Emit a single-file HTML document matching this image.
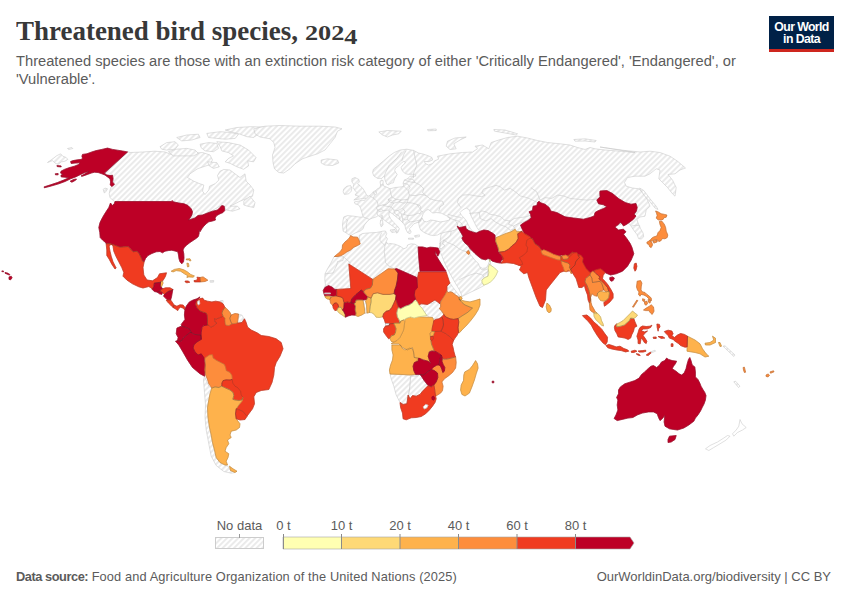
<!DOCTYPE html>
<html><head><meta charset="utf-8">
<style>
html,body{margin:0;padding:0;background:#fff;}
body{width:850px;height:600px;position:relative;overflow:hidden;font-family:"Liberation Sans",sans-serif;}
#title{position:absolute;left:16px;top:13.4px;font-family:"Liberation Serif",serif;font-weight:bold;font-size:28px;color:#383838;white-space:nowrap;line-height:36px;transform:scaleX(0.963);transform-origin:0 0;}
#sub{position:absolute;left:16px;top:53px;font-size:14.7px;line-height:17.5px;color:#5b5b5b;white-space:nowrap;}
#logo{position:absolute;left:769px;top:16px;width:65px;height:36px;background:#002147;}
#logo .bar{position:absolute;left:0;right:0;bottom:0;height:3px;background:#ce261e;}
#logo .t{position:absolute;left:0;right:0;top:4.6px;text-align:center;color:#fff;font-weight:bold;font-size:12.3px;line-height:12.3px;letter-spacing:-0.6px;}
#foot{position:absolute;left:16px;top:569px;font-size:12.8px;line-height:16px;color:#5b5b5b;white-space:nowrap;}
#foot2{position:absolute;right:19px;top:569px;font-size:13px;line-height:16px;color:#5b5b5b;white-space:nowrap;}
svg{position:absolute;left:0;top:0;}
.lg{font-family:"Liberation Sans",sans-serif;font-size:13px;fill:#5b5b5b;}
</style></head><body>
<div id="title">Threatened bird species, <span style="font-size:21.5px;display:inline-block;transform:scaleX(1.27);transform-origin:0 0">202<span style="position:relative;top:4px">4</span></span></div>
<div id="sub">Threatened species are those with an extinction risk category of either 'Critically Endangered', 'Endangered', or<br>'Vulnerable'.</div>
<div id="logo"><div class="t">Our World<br>in Data</div><div class="bar"></div></div>
<svg width="850" height="600" viewBox="0 0 850 600">
<defs>
<pattern id="h" patternUnits="userSpaceOnUse" width="4" height="4" patternTransform="rotate(45)"><rect width="4" height="4" fill="#fff"/><line x1="1" y1="-1" x2="1" y2="5" stroke="#dcdcdc" stroke-width="1.15"/></pattern>
</defs>
<g fill="url(#h)" stroke="#c6c6c6" stroke-width="0.55" stroke-linejoin="round">
<path d="M343.8 216.9L347.5 215.6L353.8 216.2L360.0 217.2L363.1 216.9L361.9 212.5L360.6 208.1L358.8 205.0L355.0 203.8L354.4 201.9L358.8 201.2L361.9 200.0L364.4 200.6L366.9 196.9L369.4 195.6L371.2 194.4L373.1 191.9L375.6 190.6L377.5 188.8L380.0 187.5L380.6 185.0L380.0 181.9L381.2 180.0L383.1 180.6L383.1 183.8L383.8 186.2L386.2 186.9L390.0 188.8L395.0 187.5L401.2 186.9L403.8 186.2L403.1 183.1L404.4 180.0L407.5 178.8L410.0 176.2L415.0 176.0L415.9 176.1L415.2 174.3L412.3 174.3L408.1 174.3L405.3 173.6L403.2 171.9L401.8 169.8L401.1 167.6L402.5 165.5L404.6 163.8L405.3 162.0L403.9 161.3L401.8 162.7L398.2 166.2L395.4 168.3L394.7 170.5L395.8 172.6L397.2 174.3L396.1 176.5L394.7 178.6L394.0 180.7L393.3 182.8L391.2 183.2L388.3 184.9L386.8 184.3L385.1 180.1L384.3 175.9L381.8 178.4L377.6 178.4L373.8 175.9L372.6 172.6L373.4 169.2L377.6 165.9L383.5 160.9L389.3 155.9L394.3 152.5L400.2 150.0L406.8 149.2L413.5 150.4L418.5 153.0L423.6 154.2L428.6 155.9L431.9 157.5L432.7 160.0L428.6 161.7L424.4 161.4L425.2 163.4L428.6 165.1L432.7 163.4L434.4 160.9L438.6 159.2L437.5 156.2L450.0 153.8L462.5 152.5L472.5 152.0L477.5 148.8L475.0 146.2L482.5 145.0L488.8 148.8L491.2 142.5L498.8 140.0L507.5 137.5L517.5 136.2L527.5 138.0L537.5 140.5L547.5 142.5L560.0 143.8L570.0 145.0L577.5 147.5L585.0 149.5L590.0 147.5L595.0 148.8L605.0 150.0L620.0 151.2L635.0 152.5L600.0 147.0L612.5 148.8L625.0 150.5L640.0 152.0L650.0 151.2L660.0 152.5L670.0 156.2L677.5 161.2L685.5 168.0L680.0 170.0L675.0 173.8L668.0 174.5L672.5 180.0L676.2 187.5L675.0 196.2L672.5 193.8L667.5 187.5L662.5 182.5L658.8 178.8L660.0 170.0L656.2 168.8L650.0 173.8L645.0 176.2L635.0 176.2L627.5 177.5L624.5 182.5L626.2 186.2L632.5 188.0L638.8 188.8L643.8 193.8L647.5 200.0L650.0 206.2L646.2 210.0L645.0 216.2L640.0 217.0L636.9 219.4L638.1 223.1L640.6 228.7L643.1 233.1L643.7 236.9L641.2 239.0L638.7 238.7L636.9 234.4L634.4 231.2L631.9 227.5L630.0 224.4L627.0 222.0L600.0 232.0L560.0 245.0L520.0 240.0L500.0 240.0L480.0 240.0L470.0 250.0L467.0 251.0L468.0 254.0L471.7 254.3L474.2 256.8L477.6 258.5L478.4 261.0L482.6 263.5L487.6 264.3L490.0 260.0L491.0 266.0L488.0 270.0L487.5 276.0L482.5 279.0L482.0 282.5L484.0 285.5L477.5 289.0L470.0 292.5L462.0 296.5L461.0 293.5L459.5 290.0L455.0 282.5L450.0 273.7L445.0 263.7L440.5 252.5L439.8 248.0L440.0 242.5L440.6 237.5L441.2 233.0L437.5 235.0L433.7 235.6L430.0 235.0L425.0 233.0L420.6 230.0L419.4 226.8L418.5 222.0L421.9 217.5L420.0 221.9L417.5 222.5L413.8 223.8L411.9 226.2L409.4 228.8L411.2 231.9L410.0 233.8L407.5 232.5L405.6 228.8L405.0 225.6L403.1 223.1L400.0 220.0L396.2 216.9L392.5 213.8L389.4 211.9L388.8 215.0L390.6 218.8L393.8 222.5L397.5 226.2L399.4 228.8L397.8 232.5L396.2 233.1L396.9 230.0L393.8 226.9L389.4 223.8L385.0 220.6L381.2 217.5L378.1 215.6L376.2 216.9L372.5 218.1L369.4 219.4L366.9 221.9L364.4 225.0L363.1 228.8L360.0 231.2L355.0 233.1L350.6 235.6L347.5 233.8L345.6 232.5L343.1 231.2L342.5 225.0L343.1 220.0Z"/>
<path d="M421.9 217.5L423.1 213.8L425.6 210.6L428.1 209.4L430.6 211.2L432.5 213.1L436.2 212.5L441.2 213.1L446.2 215.6L450.0 217.5L449.4 220.0L445.0 221.2L440.0 221.9L435.0 220.6L430.6 220.0L426.9 221.9L423.8 221.2Z" fill="#fff" stroke="#c6c6c6"/>
<path d="M460.0 212.5L462.5 210.0L466.2 208.1L468.8 209.4L470.0 211.9L470.6 215.0L472.5 218.8L474.4 222.5L476.2 226.2L478.1 229.4L480.0 231.2L476.2 232.5L472.5 231.2L470.0 228.1L468.1 224.4L466.2 220.6L463.8 217.5L461.2 215.0Z" fill="#fff" stroke="#c6c6c6"/>
<path d="M470.0 250.6L472.5 250.6L475.0 253.8L478.1 256.2L481.2 258.8L485.0 260.0L488.1 258.8L490.6 260.0L489.4 261.2L488.1 265.0L486.2 267.8L482.5 268.4L479.4 266.5L478.4 263.5L475.2 260.6L472.8 257.5L471.0 255.2L469.4 253.8Z" fill="#fff" stroke="#c6c6c6"/>
<path d="M351.9 178.8L355.0 177.5L358.8 179.4L359.4 181.9L357.5 183.8L360.0 185.6L363.1 188.8L365.0 191.9L366.2 194.4L368.1 196.2L366.9 198.1L362.5 198.5L357.5 199.4L353.8 200.0L356.2 198.1L358.8 196.2L355.0 195.0L356.9 192.5L355.0 190.6L353.1 187.5L353.8 184.4L351.9 181.9Z"/>
<path d="M343.8 188.8L346.9 186.2L350.6 185.6L351.9 188.1L351.2 191.2L348.8 193.8L344.4 194.4L343.1 191.9Z"/>
<path d="M390.0 230.0L395.0 229.4L395.6 231.9L391.9 232.5Z"/>
<path d="M380.6 220.0L382.5 219.8L383.1 225.0L381.2 226.9L380.2 223.8Z"/>
<path d="M381.2 215.6L382.5 215.6L382.8 219.0L381.5 219.0Z"/>
<path d="M414.4 235.7L419.4 234.9L419.4 236.6L415.2 237.2Z"/>
<path d="M408.5 238.2L413.5 238.2L413.5 239.2L408.5 239.2Z"/>
<path d="M321.2 160.0L327.5 158.8L337.5 160.0L338.8 163.0L332.5 165.5L325.0 165.0L321.2 163.0Z"/>
<path d="M378.8 132.0L387.5 130.5L401.2 131.2L398.8 133.8L392.5 135.0L387.5 137.0L382.5 135.0Z"/>
<path d="M427.5 129.5L436.2 129.0L436.2 130.5L428.0 130.8Z"/>
<path d="M447.5 141.2L455.0 138.0L466.2 137.0L460.0 140.0L453.8 143.8L456.2 148.8L450.0 149.5L446.2 146.2Z"/>
<path d="M493.8 129.5L505.0 130.0L517.5 133.8L516.2 135.0L505.0 133.0L494.5 131.2Z"/>
<path d="M573.8 139.5L585.0 138.8L596.2 140.5L595.0 142.0L585.0 141.0L575.0 141.2Z"/>
<path d="M639.5 188.0L643.8 190.5L650.0 198.8L656.2 206.2L658.0 209.5L655.0 208.0L649.5 201.2L643.8 195.0Z"/>
<path d="M334.2 256.5L340.0 255.8L343.8 251.2L347.5 247.5L355.0 245.0L360.0 242.0L359.0 235.5L362.5 233.5L370.0 232.8L376.2 232.5L380.0 231.8L382.5 231.2L385.5 231.0L386.8 233.8L385.5 236.2L387.5 238.8L386.2 241.8L388.0 244.2L390.0 243.5L395.0 244.2L400.0 246.2L403.8 248.8L406.8 247.5L407.5 245.0L411.2 243.8L415.0 244.2L418.0 246.2L420.0 260.0L420.0 281.2L397.5 276.2L390.0 273.8L372.5 285.0L351.2 270.0L351.2 290.0L335.0 291.2L326.2 286.2L323.8 290.0L324.2 288.0L325.5 285.0L324.8 280.0L325.0 273.8L327.5 268.8L330.5 263.8Z"/>
<path d="M128.0 151.8L105.0 173.0L107.5 175.5L112.0 178.0L113.8 182.5L114.2 184.2L111.2 186.8L110.0 190.0L109.2 193.8L110.0 197.5L112.5 200.0L115.0 201.8L171.2 201.5L180.0 203.0L186.2 205.0L191.2 209.5L192.5 213.8L190.0 218.0L188.8 219.5L195.0 217.0L203.8 214.5L212.5 210.5L220.0 206.2L223.8 205.8L226.2 210.0L232.5 211.2L240.0 208.8L237.5 206.2L230.0 206.2L235.0 203.8L240.0 201.2L246.2 198.8L252.5 196.2L253.8 190.0L250.0 185.0L246.2 181.2L245.0 173.8L240.0 177.5L235.0 173.8L230.0 170.0L223.8 169.5L220.0 171.2L217.5 175.5L218.8 180.0L215.0 183.8L209.5 186.2L208.8 190.0L205.0 194.5L202.5 191.2L203.8 185.0L200.0 183.8L193.8 181.2L187.5 177.5L190.0 173.8L197.5 168.8L205.0 166.2L212.5 163.8L210.0 163.8L212.5 160.0L210.0 155.0L202.5 152.5L187.5 153.8L172.5 155.0L165.0 152.0L155.0 151.2L142.5 152.0L130.0 152.5Z"/>
<path d="M243.8 201.2L250.0 196.2L255.0 202.5L253.8 207.5L247.5 206.2L243.8 205.0Z"/>
<path d="M160.0 146.7L166.7 142.6L175.1 141.7L178.4 145.1L175.1 149.2L166.7 150.1L161.7 149.2Z"/>
<path d="M168.4 151.7L176.7 149.2L186.8 148.4L195.1 150.1L198.4 153.4L193.4 155.9L183.4 155.9L173.4 155.9Z"/>
<path d="M176.7 137.5L186.8 135.0L198.4 134.2L200.1 137.5L191.8 140.0L181.7 140.9Z"/>
<path d="M206.8 133.4L220.2 131.7L230.2 132.5L238.5 134.2L235.2 138.4L225.2 139.2L216.8 138.4L208.5 137.5Z"/>
<path d="M225.2 130.0L236.9 127.5L250.2 126.7L263.6 127.0L270.3 129.2L265.3 132.5L256.9 135.0L253.6 137.5L246.9 136.7L240.2 134.2L233.5 132.5Z"/>
<path d="M200.1 144.2L208.5 142.6L216.8 143.4L218.5 148.4L213.5 151.7L205.1 150.9L201.0 147.6Z"/>
<path d="M216.8 141.7L228.5 142.6L240.2 145.1L248.6 150.1L256.1 157.6L253.6 161.8L247.7 160.9L248.6 165.9L243.6 169.3L236.9 166.8L230.2 163.4L225.2 161.8L228.5 158.4L233.5 155.9L228.5 152.6L221.8 150.9L220.2 146.7Z"/>
<path d="M207.6 161.8L216.8 162.6L219.3 166.8L213.5 168.4L209.3 165.9Z"/>
<path d="M253.8 128.8L265.0 126.2L280.0 125.5L300.0 126.2L320.0 126.2L335.0 127.0L342.0 128.8L337.5 131.2L335.0 137.5L330.0 143.8L325.0 150.0L317.5 153.8L310.0 156.2L302.5 158.8L295.0 163.8L290.0 168.8L283.8 173.0L278.8 172.5L274.5 168.8L273.0 162.5L272.5 155.0L275.0 147.5L273.8 142.5L270.0 138.8L260.0 137.0L255.0 133.8Z"/>
<path d="M47.5 162.5L51.9 159.4L56.9 155.6L60.6 153.8L62.8 156.2L66.2 157.5L67.8 159.4L65.0 161.2L61.2 161.9L58.1 164.4L55.0 163.1L52.5 160.6Z"/>
<path d="M67.5 148.5L71.9 147.5L72.8 148.5L68.8 149.5Z"/>
<path d="M103.1 189.4L105.0 188.1L107.5 188.8L106.2 191.2L104.4 193.1Z"/>
<path d="M740.0 419.5L742.0 423.8L746.2 427.5L742.5 430.0L737.5 432.5L733.8 436.2L732.5 433.8L736.2 430.0L738.8 426.2Z" fill="#fff" stroke="#c6c6c6"/>
<path d="M730.0 436.2L726.2 440.0L720.0 443.8L713.8 447.5L708.8 450.5L705.5 448.8L710.0 445.5L717.5 442.0L723.8 438.0L727.5 435.5Z" fill="#fff" stroke="#c6c6c6"/>
<path d="M733.8 381.8L735.5 381.2L740.0 386.2L738.5 387.5Z"/>
<path d="M723.0 346.2L725.0 345.8L735.0 355.0L733.8 356.5Z"/>
<path d="M460.9 207.6L457.5 202.6L458.4 198.4L462.6 195.1L469.2 194.7L475.9 195.9L481.8 196.7L485.1 195.1L481.8 192.6L483.4 189.2L488.4 187.6L496.0 185.4L500.1 186.7L504.3 190.1L510.2 188.4L515.2 191.7L520.2 195.9L526.9 197.6L532.7 200.1L537.7 202.6" fill="none"/>
<path d="M469.2 213.4L479.3 212.6L481.8 210.9L485.9 211.8L490.1 214.3L495.1 215.1L501.0 216.8L504.3 220.1L510.2 221.0L514.3 218.5L520.2 217.6L526.0 216.8L531.0 215.1" fill="none"/>
<path d="M479.3 212.6L480.1 218.5L485.9 221.0L491.0 218.5L495.1 221.8L501.0 225.1L506.0 226.8L510.2 230.2" fill="none"/>
<path d="M510.2 221.0L508.5 224.3L513.5 226.0L518.5 223.5L523.5 221.8L529.4 219.3" fill="none"/>
<path d="M513.5 226.0L515.2 229.3L510.2 230.2" fill="none"/>
<path d="M530.8 187.6L536.7 191.8L540.0 200.1L545.0 197.6L551.7 198.4L557.5 195.1L563.4 195.9L570.1 198.4L578.4 199.3L586.8 200.1L595.1 199.3L597.6 198.4" fill="none"/>
<path d="M631.5 226.0L636.1 225.2L640.2 226.0" fill="none"/>
<path d="M345.6 218.8L347.5 220.0L346.2 225.0L346.9 230.0L345.6 232.5" fill="none"/>
<path d="M363.1 216.9L369.4 219.4" fill="none"/>
<path d="M369.4 195.6L373.1 198.1L375.6 200.0L377.5 201.9L378.1 206.2L376.2 207.5L377.5 210.0L376.9 213.1L378.1 215.6" fill="none"/>
<path d="M373.1 191.9L375.0 195.0L373.1 198.1" fill="none"/>
<path d="M375.6 190.6L376.9 193.8L375.0 195.0" fill="none"/>
<path d="M390.0 188.8L390.6 193.1L391.9 196.9L388.1 199.4L389.4 201.9L386.2 204.4L382.5 205.0L378.1 206.2" fill="none"/>
<path d="M380.6 185.0L383.1 184.8" fill="none"/>
<path d="M391.9 196.9L396.2 199.4L401.2 200.0L408.1 199.4L409.4 195.0L408.1 190.6L403.8 186.2" fill="none"/>
<path d="M388.1 199.4L392.5 201.2L396.2 199.4" fill="none"/>
<path d="M389.4 201.9L393.8 203.1L398.8 201.9L401.2 200.0" fill="none"/>
<path d="M382.5 205.0L386.2 206.2L391.2 206.9L393.8 203.1" fill="none"/>
<path d="M398.8 201.9L403.8 203.1L407.5 202.5L408.1 199.4" fill="none"/>
<path d="M377.5 210.0L381.2 208.8L383.1 210.6L380.0 211.9L377.5 210.0" fill="none"/>
<path d="M383.1 210.6L388.8 210.0L391.2 206.9" fill="none"/>
<path d="M388.8 210.0L389.4 211.9" fill="none"/>
<path d="M391.2 206.9L393.8 210.0L398.1 210.6L402.5 208.1L407.5 202.5" fill="none"/>
<path d="M402.5 208.1L405.0 211.2L403.8 214.4L408.1 215.6L413.8 215.0L418.1 213.1L420.0 213.8L421.2 211.2" fill="none"/>
<path d="M407.5 202.5L412.5 203.1L416.9 204.4L420.0 208.8L421.2 211.2L423.1 211.9" fill="none"/>
<path d="M408.1 215.6L407.5 219.4L410.0 221.9L415.0 221.2L420.0 220.0L421.2 220.6" fill="none"/>
<path d="M393.8 210.0L395.0 213.8L398.8 215.6L400.0 220.0" fill="none"/>
<path d="M398.1 210.6L401.2 213.8L403.8 214.4" fill="none"/>
<path d="M401.2 213.8L402.5 218.1L405.0 220.0L407.5 219.4" fill="none"/>
<path d="M402.5 218.1L403.1 223.1" fill="none"/>
<path d="M405.0 225.6L407.5 223.1L410.0 221.9" fill="none"/>
<path d="M409.4 195.0L415.0 195.6L421.2 194.4L426.2 195.6" fill="none"/>
<path d="M426.2 195.6L430.0 198.8L436.2 200.6L442.5 201.2L443.8 204.4L440.0 206.9L438.8 211.2" fill="none"/>
<path d="M416.9 204.4L420.0 205.6L421.2 208.8" fill="none"/>
<path d="M415.0 182.5L420.0 185.0L423.8 188.8L422.5 192.5L426.2 195.6" fill="none"/>
<path d="M407.5 178.8L413.1 179.4L415.0 182.5" fill="none"/>
<path d="M404.4 180.0L410.0 181.9L415.0 182.5" fill="none"/>
<path d="M403.1 183.1L408.1 184.4L410.0 187.5L408.1 190.6" fill="none"/>
<path d="M401.8 151.7L396.8 158.4L389.3 165.1L386.0 171.7L384.3 175.9" fill="none"/>
<path d="M401.8 160.9L403.5 155.0L406.0 150.9" fill="none"/>
<path d="M413.5 150.4L415.2 158.4L416.9 165.1L413.5 173.4L413.5 178.1" fill="none"/>
<path d="M447.5 216.9L451.2 218.8L455.0 220.0L457.5 223.8L457.2 226.2" fill="none"/>
<path d="M441.9 233.1L446.2 231.9L451.2 231.2L455.0 230.0L458.1 228.1" fill="none"/>
<path d="M448.1 214.4L452.5 215.6L457.5 216.9L461.2 217.5" fill="none"/>
<path d="M455.0 220.0L458.8 221.2L461.9 223.8L462.5 226.9" fill="none"/>
<path d="M451.2 231.2L450.6 235.0L447.5 238.1L443.8 240.0" fill="none"/>
<path d="M443.8 240.0L447.5 242.5L453.8 245.0L460.0 249.4L466.5 251.9" fill="none"/>
<path d="M458.1 228.1L459.4 230.0L461.2 233.1L463.1 236.2L461.9 238.1L463.1 240.6L465.0 243.1L468.1 245.6L469.4 248.1L468.5 250.6" fill="none"/>
<path d="M440.6 242.5L443.8 240.0L442.5 243.8L445.0 245.6L441.2 248.8L438.8 248.1" fill="none"/>
<path d="M439.4 243.8L440.6 242.5L440.0 246.2L438.8 248.1" fill="none"/>
<path d="M458.8 280.0L463.8 277.5L470.0 275.0L476.2 273.1L482.5 275.0L485.0 278.8" fill="none"/>
<path d="M482.5 275.0L488.5 271.2L488.5 268.8" fill="none"/>
<path d="M480.0 267.5L481.2 269.4L485.0 270.0L488.5 268.8" fill="none"/>
<path d="M334.2 256.5L343.5 256.8L343.0 260.5L337.5 261.5L336.8 265.0L335.0 268.8L333.0 273.0L325.0 273.8" fill="none"/>
<path d="M343.5 256.8L350.5 263.0L348.8 264.0" fill="none"/>
<path d="M385.0 245.5L384.2 251.2L385.0 257.5L385.5 262.5L388.0 265.5L395.0 269.2" fill="none"/>
<path d="M381.8 232.5L380.0 236.2L380.0 240.5L383.0 243.8L385.0 245.5L386.2 241.8" fill="none"/>
<path d="M128.0 151.8L105.0 173.0" fill="none"/>
<path d="M210.0 280.6L213.8 280.6L213.5 282.2L210.2 282.2Z"/>
<path d="M220.6 300.6L223.1 300.6L223.1 302.5L221.0 302.2Z"/>
<path d="M238.5 314.4L241.9 315.0L243.8 318.5L241.9 322.5L238.8 323.1L237.5 322.8L238.1 318.1Z"/>
<path d="M204.5 376.2L206.2 380.0L208.8 386.2L212.5 388.8L210.0 393.8L208.8 400.0L207.5 407.5L208.0 417.5L209.5 427.5L211.2 435.0L212.5 442.5L214.5 450.0L216.2 457.5L220.0 462.5L225.0 465.0L228.0 466.2L230.5 470.5L235.0 472.5L231.2 473.2L223.8 471.5L216.2 465.5L211.2 456.2L208.8 443.8L206.2 430.0L205.0 417.5L205.5 405.0L204.5 392.5L203.5 380.0Z"/>
<path d="M450.0 283.1L453.1 287.5L456.9 292.5L460.0 296.2L458.8 297.2L455.6 295.0L452.5 292.5L450.6 291.9L448.1 292.5L446.9 291.2L446.9 286.2Z"/>
<path d="M363.0 300.2L365.5 301.0L366.5 304.4L367.0 313.1L364.9 313.5L364.5 308.8L363.6 303.8Z"/>
<path d="M418.8 305.0L421.9 302.5L426.9 303.8L432.5 303.1L437.5 300.6L440.6 302.5L440.6 306.9L439.4 308.8L441.9 311.2L443.8 314.4L441.9 316.9L438.8 318.8L435.6 319.4L432.5 318.1L429.4 316.9L426.9 315.6L424.4 311.9L421.9 308.1Z"/>
<path d="M390.0 374.0L400.0 374.4L410.0 375.0L415.6 374.4L420.0 374.4L417.5 376.0L410.6 376.2L410.0 386.2L408.8 393.1L406.9 403.8L403.1 404.4L400.0 402.5L396.2 395.0L393.8 386.2L391.2 378.8Z"/>
<path d="M410.6 376.2L417.5 376.0L420.0 374.4L421.9 376.9L423.8 380.0L426.2 383.1L428.1 385.6L425.6 388.1L422.5 391.2L420.0 394.4L416.2 396.2L412.5 395.6L410.0 398.8L408.1 395.0L409.0 393.1L410.0 386.2Z"/>
<path d="M650.6 351.9L655.0 350.2L655.6 351.2L651.5 352.8Z"/>
</g>
<g stroke-width="0.7" stroke-linejoin="round">
<path d="M207.5 325.0L208.8 325.0L210.5 327.2L213.0 326.2L217.0 323.0L214.8 322.0L214.5 318.5L216.2 319.0L220.0 317.5L223.0 316.2L225.0 318.0L225.0 321.2L225.5 325.0L228.8 325.5L232.0 323.8L235.0 323.5L237.5 322.8L238.8 323.0L242.0 322.5L244.5 318.8L246.2 322.5L247.5 327.0L251.2 330.0L257.5 333.0L261.2 335.5L268.8 336.5L273.8 338.0L276.2 338.8L281.2 342.5L283.0 348.8L280.0 356.2L276.2 362.5L274.5 367.5L273.8 375.0L272.0 382.5L268.8 389.5L261.2 390.5L256.2 392.5L253.8 396.8L254.5 403.8L252.5 408.8L248.8 413.8L247.0 416.2L242.5 411.2L236.2 408.8L238.8 405.0L243.0 397.5L240.5 395.0L239.5 391.2L236.5 387.5L234.0 386.2L231.8 383.0L231.2 379.2L230.8 375.5L229.0 372.5L225.2 370.5L224.5 367.5L223.2 364.2L220.2 362.8L215.8 360.5L212.0 358.0L212.0 356.5L208.0 357.0L204.0 359.5L201.2 354.5L198.0 355.0L195.0 352.0L193.0 348.0L193.8 345.0L197.0 342.0L201.2 339.5L201.0 337.0L201.2 332.5L202.0 327.5L203.8 325.5Z" fill="#f03b20" stroke="#f03b20"/>
<path d="M418.8 272.0L446.2 272.0L448.0 277.5L449.2 281.2L450.0 283.0L447.0 286.2L446.8 291.2L445.0 295.0L442.5 298.8L440.5 301.2L440.0 303.8L435.0 300.0L427.5 304.5L421.2 303.8L418.8 305.0L415.0 297.5L413.8 291.2L417.0 287.5L417.5 277.5Z" fill="#f03b20" stroke="#f03b20"/>
<path d="M434.4 331.5L441.0 331.2L445.0 333.1L449.4 336.2L453.5 340.6L452.2 344.4L453.1 347.5L453.8 351.2L455.0 355.6L455.6 356.9L451.2 358.1L446.9 359.0L443.1 358.8L441.9 356.9L440.2 354.0L437.5 352.5L434.4 351.0L433.1 348.1L431.5 344.4L431.0 340.6L431.9 340.6L433.5 338.1L432.8 336.2L433.8 333.8Z" fill="#f03b20" stroke="#f03b20"/>
<path d="M391.9 345.0L400.6 345.0L401.9 348.1L405.0 350.0L409.4 348.1L412.5 348.8L413.8 352.5L414.0 357.5L418.8 358.1L418.1 361.2L414.4 362.5L413.1 366.2L413.8 370.6L415.6 374.4L410.0 375.0L400.0 374.4L390.0 374.0L389.4 370.0L390.6 365.0L392.5 360.0L393.1 355.0L391.9 350.0Z" fill="#feb24c" stroke="#feb24c"/>
<path d="M442.2 357.5L442.5 359.8L448.8 358.8L455.6 356.9L456.2 362.5L455.6 368.1L452.5 372.5L448.1 376.2L444.4 378.8L441.9 381.9L443.1 386.2L442.5 390.6L440.6 393.1L437.5 395.0L435.6 396.2L435.0 392.5L434.4 387.5L433.8 385.0L436.2 381.9L437.8 377.5L437.5 373.1L434.4 370.6L431.2 369.4L433.8 366.9L436.9 365.0L438.8 365.0L440.6 366.2L441.9 369.4L442.8 372.5L444.4 371.2L444.8 367.5L443.1 364.4L441.9 361.2Z" fill="#fd8d3c" stroke="#fd8d3c"/>
<path d="M405.0 318.8L412.5 316.2L422.5 317.0L432.5 317.5L433.8 320.5L432.0 331.2L430.0 333.0L430.5 339.8L431.5 344.2L433.0 348.0L434.2 351.0L431.2 350.5L429.2 351.5L428.5 355.0L428.8 358.8L430.0 362.5L426.8 361.0L422.5 359.2L418.8 358.5L417.5 359.2L415.5 362.5L419.5 362.5L420.0 358.8L414.5 357.5L412.5 347.5L407.5 350.0L402.5 347.5L398.8 343.8L391.2 343.8L394.2 341.8L396.8 340.5L399.8 337.5L401.8 333.8L403.5 330.0L404.2 325.5L404.8 321.2Z" fill="#feb24c" stroke="#feb24c"/>
<path d="M520.5 225.0L524.2 222.5L528.0 220.5L531.2 217.8L530.5 214.2L529.0 211.8L532.5 210.5L533.0 206.2L536.8 205.5L537.5 202.5L539.2 201.2L540.0 202.5L545.0 204.2L549.2 207.5L550.8 211.0L556.8 212.5L565.0 216.8L573.5 218.0L583.5 219.2L590.0 217.5L594.2 216.0L595.0 212.5L597.5 211.0L603.5 208.5L606.8 206.8L603.5 204.8L598.5 203.8L596.8 200.0L600.0 196.8L599.8 192.5L600.0 191.0L606.8 190.5L612.5 193.5L618.5 198.5L625.2 202.5L631.0 204.2L636.0 203.5L637.2 207.5L636.5 211.0L634.2 214.2L636.0 216.0L633.5 219.2L630.2 221.8L626.8 224.2L623.5 226.0L621.8 223.5L620.2 222.5L617.8 225.0L614.8 227.0L618.5 230.0L623.5 229.2L626.0 231.8L623.5 234.2L626.8 238.5L630.2 243.5L632.0 247.5L633.8 253.8L631.2 260.0L627.5 266.2L622.5 271.2L616.2 273.8L610.5 275.0L605.8 273.0L603.5 271.5L600.8 269.8L597.5 270.2L594.0 271.5L592.5 272.2L590.5 273.8L588.2 272.0L585.8 269.5L583.8 266.2L582.0 262.2L582.5 258.2L580.0 255.5L576.2 254.2L572.5 252.5L568.8 255.0L565.0 256.2L561.2 255.0L555.0 258.8L547.5 255.0L542.0 250.5L538.8 246.2L535.0 243.8L532.5 238.8L526.2 236.2L523.8 232.5L522.0 228.8Z" fill="#bd0026" stroke="#bd0026"/>
<path d="M524.5 233.8L526.2 236.2L532.5 238.8L535.0 243.8L538.8 246.2L542.0 250.5L547.5 253.8L555.0 257.5L561.2 256.2L565.0 256.2L568.8 255.0L572.5 252.0L576.2 253.8L580.0 255.0L578.8 258.8L576.2 262.5L574.5 267.5L571.2 270.0L568.0 271.2L563.8 271.2L560.0 272.5L555.0 278.8L550.0 285.0L546.2 290.0L545.5 300.0L542.5 307.5L540.0 306.2L536.2 297.5L532.5 287.5L528.8 277.5L527.5 272.5L523.8 273.8L519.5 270.0L521.2 266.2L518.5 265.0L521.2 262.5L518.8 257.5L523.0 254.5L526.0 251.5L527.0 247.5L525.0 245.0L525.8 240.0L530.0 237.0L526.2 234.5Z" fill="#f03b20" stroke="#f03b20"/>
</g>
<g fill="none" stroke="#333" stroke-opacity="0.5" stroke-width="0.4" stroke-linejoin="round">
<path d="M207.5 325.0L208.8 325.0L210.5 327.2L213.0 326.2L217.0 323.0L214.8 322.0L214.5 318.5L216.2 319.0L220.0 317.5L223.0 316.2L225.0 318.0L225.0 321.2L225.5 325.0L228.8 325.5L232.0 323.8L235.0 323.5L237.5 322.8L238.8 323.0L242.0 322.5L244.5 318.8L246.2 322.5L247.5 327.0L251.2 330.0L257.5 333.0L261.2 335.5L268.8 336.5L273.8 338.0L276.2 338.8L281.2 342.5L283.0 348.8L280.0 356.2L276.2 362.5L274.5 367.5L273.8 375.0L272.0 382.5L268.8 389.5L261.2 390.5L256.2 392.5L253.8 396.8L254.5 403.8L252.5 408.8L248.8 413.8L247.0 416.2L242.5 411.2L236.2 408.8L238.8 405.0L243.0 397.5L240.5 395.0L239.5 391.2L236.5 387.5L234.0 386.2L231.8 383.0L231.2 379.2L230.8 375.5L229.0 372.5L225.2 370.5L224.5 367.5L223.2 364.2L220.2 362.8L215.8 360.5L212.0 358.0L212.0 356.5L208.0 357.0L204.0 359.5L201.2 354.5L198.0 355.0L195.0 352.0L193.0 348.0L193.8 345.0L197.0 342.0L201.2 339.5L201.0 337.0L201.2 332.5L202.0 327.5L203.8 325.5Z"/>
<path d="M418.8 272.0L446.2 272.0L448.0 277.5L449.2 281.2L450.0 283.0L447.0 286.2L446.8 291.2L445.0 295.0L442.5 298.8L440.5 301.2L440.0 303.8L435.0 300.0L427.5 304.5L421.2 303.8L418.8 305.0L415.0 297.5L413.8 291.2L417.0 287.5L417.5 277.5Z"/>
<path d="M434.4 331.5L441.0 331.2L445.0 333.1L449.4 336.2L453.5 340.6L452.2 344.4L453.1 347.5L453.8 351.2L455.0 355.6L455.6 356.9L451.2 358.1L446.9 359.0L443.1 358.8L441.9 356.9L440.2 354.0L437.5 352.5L434.4 351.0L433.1 348.1L431.5 344.4L431.0 340.6L431.9 340.6L433.5 338.1L432.8 336.2L433.8 333.8Z"/>
<path d="M391.9 345.0L400.6 345.0L401.9 348.1L405.0 350.0L409.4 348.1L412.5 348.8L413.8 352.5L414.0 357.5L418.8 358.1L418.1 361.2L414.4 362.5L413.1 366.2L413.8 370.6L415.6 374.4L410.0 375.0L400.0 374.4L390.0 374.0L389.4 370.0L390.6 365.0L392.5 360.0L393.1 355.0L391.9 350.0Z"/>
<path d="M442.2 357.5L442.5 359.8L448.8 358.8L455.6 356.9L456.2 362.5L455.6 368.1L452.5 372.5L448.1 376.2L444.4 378.8L441.9 381.9L443.1 386.2L442.5 390.6L440.6 393.1L437.5 395.0L435.6 396.2L435.0 392.5L434.4 387.5L433.8 385.0L436.2 381.9L437.8 377.5L437.5 373.1L434.4 370.6L431.2 369.4L433.8 366.9L436.9 365.0L438.8 365.0L440.6 366.2L441.9 369.4L442.8 372.5L444.4 371.2L444.8 367.5L443.1 364.4L441.9 361.2Z"/>
<path d="M405.0 318.8L412.5 316.2L422.5 317.0L432.5 317.5L433.8 320.5L432.0 331.2L430.0 333.0L430.5 339.8L431.5 344.2L433.0 348.0L434.2 351.0L431.2 350.5L429.2 351.5L428.5 355.0L428.8 358.8L430.0 362.5L426.8 361.0L422.5 359.2L418.8 358.5L417.5 359.2L415.5 362.5L419.5 362.5L420.0 358.8L414.5 357.5L412.5 347.5L407.5 350.0L402.5 347.5L398.8 343.8L391.2 343.8L394.2 341.8L396.8 340.5L399.8 337.5L401.8 333.8L403.5 330.0L404.2 325.5L404.8 321.2Z"/>
<path d="M520.5 225.0L524.2 222.5L528.0 220.5L531.2 217.8L530.5 214.2L529.0 211.8L532.5 210.5L533.0 206.2L536.8 205.5L537.5 202.5L539.2 201.2L540.0 202.5L545.0 204.2L549.2 207.5L550.8 211.0L556.8 212.5L565.0 216.8L573.5 218.0L583.5 219.2L590.0 217.5L594.2 216.0L595.0 212.5L597.5 211.0L603.5 208.5L606.8 206.8L603.5 204.8L598.5 203.8L596.8 200.0L600.0 196.8L599.8 192.5L600.0 191.0L606.8 190.5L612.5 193.5L618.5 198.5L625.2 202.5L631.0 204.2L636.0 203.5L637.2 207.5L636.5 211.0L634.2 214.2L636.0 216.0L633.5 219.2L630.2 221.8L626.8 224.2L623.5 226.0L621.8 223.5L620.2 222.5L617.8 225.0L614.8 227.0L618.5 230.0L623.5 229.2L626.0 231.8L623.5 234.2L626.8 238.5L630.2 243.5L632.0 247.5L633.8 253.8L631.2 260.0L627.5 266.2L622.5 271.2L616.2 273.8L610.5 275.0L605.8 273.0L603.5 271.5L600.8 269.8L597.5 270.2L594.0 271.5L592.5 272.2L590.5 273.8L588.2 272.0L585.8 269.5L583.8 266.2L582.0 262.2L582.5 258.2L580.0 255.5L576.2 254.2L572.5 252.5L568.8 255.0L565.0 256.2L561.2 255.0L555.0 258.8L547.5 255.0L542.0 250.5L538.8 246.2L535.0 243.8L532.5 238.8L526.2 236.2L523.8 232.5L522.0 228.8Z"/>
<path d="M524.5 233.8L526.2 236.2L532.5 238.8L535.0 243.8L538.8 246.2L542.0 250.5L547.5 253.8L555.0 257.5L561.2 256.2L565.0 256.2L568.8 255.0L572.5 252.0L576.2 253.8L580.0 255.0L578.8 258.8L576.2 262.5L574.5 267.5L571.2 270.0L568.0 271.2L563.8 271.2L560.0 272.5L555.0 278.8L550.0 285.0L546.2 290.0L545.5 300.0L542.5 307.5L540.0 306.2L536.2 297.5L532.5 287.5L528.8 277.5L527.5 272.5L523.8 273.8L519.5 270.0L521.2 266.2L518.5 265.0L521.2 262.5L518.8 257.5L523.0 254.5L526.0 251.5L527.0 247.5L525.0 245.0L525.8 240.0L530.0 237.0L526.2 234.5Z"/>
</g>
<g stroke-width="0.7" stroke-linejoin="round">
<path d="M127.5 151.9L104.4 173.1L106.2 174.8L110.0 175.6L112.5 175.2L113.1 178.8L112.5 181.9L114.4 184.4L111.9 186.5L110.2 185.0L110.6 181.9L110.0 178.8L107.5 176.9L105.0 175.0L101.9 173.8L98.1 172.5L94.4 172.2L91.2 173.1L87.5 174.4L82.5 176.2L81.0 176.0L85.0 173.8L88.8 171.5L85.0 172.5L80.0 174.8L75.6 176.9L70.6 178.8L65.0 181.5L58.8 183.8L51.2 186.0L44.4 187.8L44.0 186.9L50.6 184.8L57.5 182.5L63.8 180.0L68.8 177.8L65.0 177.2L61.2 176.9L61.0 175.0L63.1 174.8L60.6 173.1L61.0 171.2L64.4 169.4L68.8 167.8L74.4 166.2L78.8 164.4L80.0 162.8L75.0 163.1L71.2 163.5L70.6 161.5L73.1 160.6L77.5 159.8L81.2 159.4L82.5 158.1L81.9 156.2L82.5 154.4L86.9 153.8L91.9 151.9L96.2 150.6L101.9 149.4L107.5 148.1L112.5 149.4L117.5 150.2L122.5 151.0Z" fill="#bd0026" stroke="#bd0026"/>
<path d="M70.2 181.2L73.8 179.4L76.5 179.0L75.6 180.2L71.9 182.2Z" fill="#bd0026" stroke="#bd0026"/>
<path d="M56.9 165.6L61.0 165.9L61.2 166.9L57.2 166.6Z" fill="#bd0026" stroke="#bd0026"/>
<path d="M55.2 173.8L58.1 173.5L58.1 174.8L55.5 174.8Z" fill="#bd0026" stroke="#bd0026"/>
<path d="M115.0 201.5L171.2 201.5L172.2 200.5L173.0 201.8L178.8 203.0L184.2 203.8L188.0 205.5L191.2 208.8L192.5 211.8L191.8 215.0L190.0 218.0L188.0 220.0L191.2 219.2L195.0 218.0L198.0 215.5L202.5 215.0L207.5 213.0L212.5 211.2L217.5 210.0L220.0 207.5L221.8 205.5L224.2 206.2L224.8 210.5L223.0 212.5L220.0 213.8L216.8 215.5L215.0 218.0L215.5 220.0L212.5 221.0L208.8 221.8L206.2 223.8L203.8 226.2L201.8 228.8L200.0 231.8L198.8 230.0L199.2 233.0L198.5 236.2L196.8 238.0L193.8 240.0L190.0 242.5L186.8 245.0L184.2 247.5L183.0 250.0L183.8 253.8L184.0 258.0L183.5 261.8L181.8 263.8L180.0 261.8L179.0 258.8L178.5 255.0L177.8 251.8L175.0 251.0L171.8 250.2L168.8 250.5L165.0 251.2L162.5 252.8L160.0 251.5L156.2 251.8L151.8 253.5L148.0 255.5L145.5 258.5L144.2 261.5L142.5 261.2L141.2 258.0L139.2 253.8L136.8 251.2L133.0 251.8L130.5 248.8L128.0 246.5L124.2 246.8L120.0 247.2L114.2 245.0L110.0 243.5L106.2 243.8L105.5 242.5L102.5 240.0L100.2 237.5L99.8 232.5L98.8 227.5L100.0 222.5L102.5 217.5L105.5 212.5L108.8 207.5L110.5 203.0L112.5 205.5L114.2 203.8Z" fill="#bd0026" stroke="#bd0026"/>
<path d="M106.2 243.8L110.0 243.5L114.2 245.0L120.0 247.2L124.2 246.8L128.0 246.5L130.5 248.8L133.0 251.8L136.8 251.2L139.2 253.8L141.2 258.0L142.5 261.2L144.2 261.5L143.0 267.5L143.8 275.0L147.0 280.0L152.5 280.8L157.5 277.5L159.5 273.8L166.5 272.8L165.5 276.2L163.8 279.2L162.5 281.0L160.5 282.0L159.2 282.5L154.2 283.0L153.8 286.8L152.2 289.2L151.2 288.0L148.8 286.5L143.0 288.0L138.8 286.8L132.5 283.8L126.8 280.0L123.0 276.2L123.8 272.5L121.8 267.5L118.8 261.8L116.2 256.8L113.8 251.2L113.0 246.2L112.0 244.5L109.5 245.0L109.2 246.8L110.0 251.2L111.2 256.2L113.0 261.8L115.5 266.8L116.2 268.0L115.0 269.0L111.8 264.2L109.2 259.2L106.8 255.5L106.8 250.0L106.2 244.2Z" fill="#f03b20" stroke="#f03b20"/>
<path d="M171.2 271.2L174.4 269.4L179.4 268.5L183.8 269.8L187.5 271.9L190.6 274.4L194.4 276.0L193.1 277.2L188.8 276.9L186.9 277.5L187.5 275.6L184.4 273.8L180.6 271.2L176.2 270.6L173.1 271.9Z" fill="#feb24c" stroke="#feb24c"/>
<path d="M194.0 280.6L196.9 280.2L197.5 278.1L196.9 277.2L200.0 277.5L200.2 279.8L200.6 281.9L198.1 281.9L194.4 281.9Z" fill="#f03b20" stroke="#f03b20"/>
<path d="M200.0 277.5L203.1 276.9L206.2 279.0L207.8 280.2L205.0 281.5L200.6 281.9L200.2 279.8Z" fill="#fd8d3c" stroke="#fd8d3c"/>
<path d="M185.2 281.0L188.1 281.0L189.8 282.2L186.9 282.8L185.2 282.0Z" fill="#f03b20" stroke="#f03b20"/>
<path d="M186.2 259.0L190.0 258.8L191.0 260.6L189.8 261.0L189.0 259.8L186.5 260.0Z" fill="#feb24c" stroke="#feb24c"/>
<path d="M186.9 263.1L188.5 263.5L189.0 266.5L187.5 266.9Z" fill="#feb24c" stroke="#feb24c"/>
<path d="M160.6 281.9L162.5 281.0L163.1 283.1L161.5 286.9L160.2 286.2Z" fill="#feb24c" stroke="#feb24c"/>
<path d="M154.4 283.1L159.4 282.5L160.6 281.9L160.2 286.2L161.5 287.2L162.5 288.8L160.0 290.6L157.5 292.2L154.4 291.5L152.2 289.4L153.8 286.9Z" fill="#bd0026" stroke="#bd0026"/>
<path d="M157.5 292.2L160.0 290.6L162.5 292.5L161.9 294.4L159.4 293.8Z" fill="#bd0026" stroke="#bd0026"/>
<path d="M162.5 288.8L165.6 287.8L170.0 287.8L172.8 289.4L171.9 290.6L168.8 291.2L166.9 292.5L164.4 294.6L162.5 292.5L160.0 290.6Z" fill="#f03b20" stroke="#f03b20"/>
<path d="M164.4 294.6L166.9 292.5L168.8 291.2L171.9 290.6L172.8 289.4L172.2 293.1L171.5 296.9L170.6 300.0L167.5 300.0L165.6 298.1L163.5 296.2Z" fill="#bd0026" stroke="#bd0026"/>
<path d="M166.2 300.2L167.5 300.0L170.6 300.0L172.5 302.5L174.0 305.0L173.1 307.5L170.6 305.0L168.5 303.1Z" fill="#f03b20" stroke="#f03b20"/>
<path d="M173.1 307.5L174.0 305.0L176.9 306.2L180.0 304.8L183.1 305.0L185.0 307.5L184.8 309.8L182.8 308.1L180.6 307.2L178.5 308.8L177.8 310.6L175.6 309.0Z" fill="#f03b20" stroke="#f03b20"/>
<path d="M9.0 276.9L11.2 276.2L12.1 277.8L10.6 279.8L9.0 279.4Z" fill="#bd0026" stroke="#bd0026"/>
<path d="M5.0 272.5L7.5 273.1L9.8 274.4L9.5 275.1L6.9 274.0L5.0 273.2Z" fill="#bd0026" stroke="#bd0026"/>
<path d="M1.9 270.9L3.5 271.0L3.5 271.8L1.9 271.6Z" fill="#bd0026" stroke="#bd0026"/>
<path d="M200.0 296.9L196.9 298.8L193.1 300.0L189.4 301.9L186.2 306.2L184.8 310.6L184.4 315.0L185.0 319.4L183.1 321.9L181.2 324.4L181.9 326.2L186.2 327.5L190.0 329.4L191.2 332.5L194.4 334.4L200.6 335.0L201.2 339.4L201.0 336.9L201.2 332.5L201.9 327.5L203.8 325.6L207.5 325.0L207.5 320.0L207.2 315.0L206.2 313.1L202.5 311.9L199.4 310.6L196.9 307.5L195.6 304.4L196.2 301.9L198.1 299.4Z" fill="#bd0026" stroke="#bd0026"/>
<path d="M176.9 328.1L181.2 326.2L181.9 326.2L186.2 327.5L190.0 329.4L191.2 332.5L189.8 332.5L186.9 335.0L183.8 337.5L181.2 341.2L177.5 340.6L178.1 337.5L176.2 333.8Z" fill="#bd0026" stroke="#bd0026"/>
<path d="M196.9 300.6L199.4 298.8L202.8 298.1L203.8 300.0L207.5 301.2L211.9 301.9L215.6 301.2L220.0 301.9L223.1 303.8L225.0 307.5L223.1 310.0L221.9 313.1L223.1 316.2L220.0 317.5L216.2 319.0L214.4 318.5L214.8 321.9L216.9 323.1L213.1 326.2L210.6 327.2L208.8 325.0L207.5 325.0L207.5 320.0L207.2 315.0L206.2 313.1L202.5 311.9L199.4 310.6L196.9 307.5L195.6 304.4L196.2 301.9Z" fill="#f03b20" stroke="#f03b20"/>
<path d="M197.8 301.2L199.4 300.6L199.8 303.8L198.5 305.0L197.5 303.5Z" fill="#fff" stroke="#fff"/>
<path d="M225.0 307.5L227.5 309.4L230.0 312.5L231.2 315.0L229.8 318.1L230.6 321.2L231.9 323.8L228.8 325.6L225.6 325.0L225.0 321.2L225.0 318.1L223.1 316.2L221.9 313.1L223.1 310.0Z" fill="#fd8d3c" stroke="#fd8d3c"/>
<path d="M231.2 315.0L235.0 313.5L238.5 314.0L238.1 318.1L237.5 322.8L235.0 323.5L231.9 323.8L230.6 321.2L229.8 318.1Z" fill="#fd8d3c" stroke="#fd8d3c"/>
<path d="M177.5 340.6L181.2 341.2L183.8 337.5L186.9 335.0L189.8 332.5L191.2 332.5L194.4 334.4L200.6 335.0L201.2 339.4L196.9 341.9L193.8 345.0L193.1 348.1L195.0 351.9L198.1 355.0L201.2 353.8L203.8 357.5L205.5 365.0L205.0 372.5L204.5 376.2L200.0 373.8L192.5 367.5L187.5 360.0L182.5 351.2L178.8 345.0L175.5 341.2Z" fill="#bd0026" stroke="#bd0026"/>
<path d="M205.0 358.1L209.4 355.0L212.5 354.8L213.1 358.1L216.9 360.6L221.2 362.8L224.4 364.4L225.6 367.5L226.2 370.6L230.0 372.5L231.9 375.6L232.2 379.4L230.0 380.0L226.2 379.8L223.1 380.6L221.9 383.1L221.5 386.2L218.8 387.5L215.0 386.9L211.9 388.1L208.8 383.8L207.5 379.4L205.6 375.0L204.8 370.0L205.2 365.0Z" fill="#fd8d3c" stroke="#fd8d3c"/>
<path d="M223.1 380.6L226.2 379.8L230.0 380.0L232.2 379.4L232.8 383.1L235.0 386.2L237.5 387.5L240.6 391.2L241.2 395.0L243.1 397.5L241.9 400.0L238.8 400.6L235.0 400.0L232.8 399.4L233.8 395.6L233.1 392.5L230.0 390.0L225.6 388.1L221.9 386.2L221.9 383.1Z" fill="#f03b20" stroke="#f03b20"/>
<path d="M211.8 388.0L215.0 386.8L218.8 387.5L221.5 386.2L225.5 388.0L230.0 390.0L233.0 392.5L233.8 395.5L232.8 399.2L235.0 400.0L238.8 400.5L241.8 400.0L243.0 397.5L242.0 401.2L238.8 405.0L236.2 408.8L235.5 413.8L236.2 418.8L240.0 423.8L239.5 427.5L236.2 430.0L231.2 431.2L230.0 435.0L231.2 437.5L227.5 440.0L228.8 443.8L226.2 447.5L225.0 451.2L228.8 453.8L228.0 457.5L226.2 461.2L227.5 465.0L225.0 465.0L220.0 462.5L216.2 457.5L214.5 450.0L212.5 442.5L211.2 435.0L209.5 427.5L208.0 417.5L207.5 407.5L208.8 400.0L210.0 393.8Z" fill="#feb24c" stroke="#feb24c"/>
<path d="M229.5 466.2L233.0 468.8L237.0 471.2L235.0 472.5L230.5 470.5Z" fill="#feb24c" stroke="#feb24c"/>
<path d="M236.2 408.8L242.5 411.2L247.0 416.2L245.0 419.5L240.0 420.0L236.2 418.8L235.5 413.8Z" fill="#f03b20" stroke="#f03b20"/>
<path d="M350.6 235.6L353.1 236.9L357.5 237.2L359.0 240.0L360.2 244.0L357.5 245.6L353.8 247.2L350.6 250.0L346.9 251.9L344.4 253.8L341.2 255.6L337.5 256.5L334.4 256.5L336.9 254.4L340.0 251.9L342.2 248.8L342.5 245.0L345.0 241.9L348.1 239.4L350.0 236.9Z" fill="#fd8d3c" stroke="#fd8d3c"/>
<path d="M457.2 226.2L459.4 227.5L462.5 226.9L465.6 226.2L466.2 228.8L468.8 230.6L472.5 231.9L476.2 233.1L480.0 231.2L483.8 230.0L488.1 230.6L492.5 233.1L495.0 235.0L495.2 238.1L496.2 242.5L497.5 246.2L498.8 248.8L498.1 251.2L500.0 253.8L502.5 256.2L503.8 258.8L501.2 260.6L500.6 263.1L496.9 262.5L492.5 261.2L490.2 259.5L488.1 258.5L485.6 259.8L481.5 258.8L478.4 256.5L475.0 253.5L472.5 251.0L470.0 248.5L468.1 245.6L465.0 243.1L463.1 240.6L461.9 238.1L463.1 236.2L461.2 233.1L459.4 230.0L458.1 228.1Z" fill="#bd0026" stroke="#bd0026"/>
<path d="M418.1 246.9L422.5 246.9L426.9 248.1L430.0 247.2L434.4 247.5L438.1 248.1L439.8 251.9L438.8 254.4L437.8 256.2L436.2 253.1L435.0 251.5L435.6 254.4L438.1 258.8L441.2 263.8L444.4 268.8L446.2 271.2L420.0 271.2L418.8 258.8Z" fill="#bd0026" stroke="#bd0026"/>
<path d="M459.0 297.2L461.2 296.5L462.2 298.8L460.6 300.2L459.0 299.4Z" fill="#feb24c" stroke="#feb24c"/>
<path d="M481.9 280.0L485.0 277.5L488.1 276.2L488.8 272.5L488.1 268.1L489.4 264.4L493.1 266.9L496.2 269.4L497.8 271.2L496.2 275.0L493.8 278.8L490.6 281.9L487.5 283.8L483.8 285.2L482.2 282.5Z" fill="#ffffb2" stroke="#ffffb2"/>
<path d="M489.1 260.0L490.2 259.8L490.0 261.9Z" fill="#ffffb2" stroke="#ffffb2"/>
<path d="M466.5 251.9L468.5 250.6L470.0 253.1L468.8 254.4L467.2 253.5Z" fill="#fd8d3c" stroke="#fd8d3c"/>
<path d="M323.2 290.6L324.9 287.5L328.6 285.6L331.8 286.9L334.9 289.4L336.8 289.4L336.5 290.0L336.8 293.1L336.5 296.0L333.0 296.2L329.2 295.6L324.9 296.0L324.0 293.8Z" fill="#bd0026" stroke="#bd0026"/>
<path d="M324.5 293.0L330.5 293.0L330.5 293.8L324.5 293.8Z" fill="#fff" stroke="#fff"/>
<path d="M324.9 296.2L328.6 296.0L331.1 296.9L329.9 299.4L327.4 299.0L325.5 297.8Z" fill="#feb24c" stroke="#feb24c"/>
<path d="M329.9 299.4L331.1 296.9L336.5 296.0L340.5 296.9L343.0 298.1L343.6 301.2L344.2 302.8L343.9 307.5L343.6 308.8L342.4 309.8L340.8 307.2L338.6 307.2L338.0 304.4L336.1 302.8L334.0 303.5L332.8 305.6L330.5 303.1Z" fill="#fd8d3c" stroke="#fd8d3c"/>
<path d="M332.8 305.6L334.0 303.5L336.1 302.8L338.0 304.4L338.6 307.2L336.8 310.2L334.9 310.6L333.2 308.1Z" fill="#f03b20" stroke="#f03b20"/>
<path d="M336.8 310.2L338.6 307.2L340.8 307.2L342.4 309.8L343.6 311.2L345.2 314.4L345.2 317.2L342.4 315.2L339.2 313.1Z" fill="#fed976" stroke="#fed976"/>
<path d="M344.2 302.8L347.4 301.9L350.8 302.8L354.2 303.5L355.5 306.2L355.2 310.0L356.1 313.1L355.5 315.2L351.8 315.0L348.0 316.0L345.5 317.2L345.2 314.4L343.6 311.2L342.4 309.8L343.6 308.8L343.9 307.5Z" fill="#bd0026" stroke="#bd0026"/>
<path d="M348.8 264.0L350.8 288.5L336.8 289.4L336.5 290.0L336.8 293.1L336.5 296.0L340.5 296.9L343.0 298.1L343.6 301.2L344.2 302.8L347.4 301.9L350.8 302.8L351.5 299.4L353.6 296.9L356.1 294.4L359.2 291.9L361.1 290.0L363.6 291.9L365.5 289.4L370.5 288.1L372.4 285.0L372.8 279.4Z" fill="#f03b20" stroke="#f03b20"/>
<path d="M350.8 302.8L351.5 299.4L353.6 296.9L356.1 294.4L359.2 291.9L361.1 290.0L363.6 291.9L366.1 295.0L368.0 296.9L366.8 299.4L363.0 300.0L359.2 300.0L356.1 300.2L355.5 302.8L354.2 303.5Z" fill="#bd0026" stroke="#bd0026"/>
<path d="M356.1 300.2L359.2 300.0L363.0 300.2L363.6 303.8L364.5 308.8L364.9 313.1L361.8 315.0L358.0 316.5L355.8 315.6L356.1 313.1L355.2 310.0L355.5 306.2L354.2 303.5L355.5 302.8Z" fill="#feb24c" stroke="#feb24c"/>
<path d="M365.5 301.0L366.8 299.4L368.0 296.9L371.1 298.1L371.1 301.9L370.2 306.2L369.5 312.5L367.0 313.1L366.5 304.4Z" fill="#feb24c" stroke="#feb24c"/>
<path d="M371.1 298.1L373.0 293.8L377.4 292.8L383.0 294.4L389.9 294.4L394.2 293.5L396.1 295.6L395.5 299.4L393.6 303.8L391.8 307.5L389.2 310.6L386.1 311.2L383.6 313.8L382.4 316.9L379.2 317.5L376.1 317.2L374.2 314.4L371.8 312.8L369.5 312.5L370.2 306.2L371.1 301.9Z" fill="#fed976" stroke="#fed976"/>
<path d="M372.8 279.4L388.1 268.8L395.0 269.0L398.1 273.1L397.4 280.0L396.1 286.2L394.5 290.6L394.2 293.5L389.9 294.4L383.0 294.4L377.4 292.8L373.0 293.8L371.1 298.1L368.0 296.9L366.1 295.0L363.6 291.9L365.5 289.4L370.5 288.1L372.4 285.0Z" fill="#fd8d3c" stroke="#fd8d3c"/>
<path d="M395.0 269.0L396.5 268.5L416.9 277.5L417.4 287.5L414.9 290.6L414.2 295.0L415.5 299.4L414.2 300.6L413.0 302.5L409.2 305.0L405.5 306.2L400.5 308.8L398.6 307.5L397.4 304.4L396.1 300.6L395.5 299.4L396.1 295.6L394.2 293.5L394.5 290.6L396.1 286.2L397.4 280.0L398.1 273.1Z" fill="#bd0026" stroke="#bd0026"/>
<path d="M395.5 299.4L396.1 300.6L397.4 304.4L398.6 307.5L397.4 310.0L396.8 313.1L397.4 316.9L399.2 320.0L399.9 323.1L395.5 323.1L393.6 323.5L389.5 323.8L385.5 323.5L384.2 319.4L382.8 316.9L383.6 313.8L386.1 311.2L389.2 310.6L391.8 307.5L393.6 303.8Z" fill="#f03b20" stroke="#f03b20"/>
<path d="M398.6 307.5L400.5 308.8L405.5 306.2L409.2 305.0L413.0 302.5L414.2 300.6L416.8 301.2L418.8 305.0L421.9 308.1L424.4 311.9L426.9 315.6L424.0 316.0L418.0 316.9L414.2 318.1L410.5 316.9L406.8 318.1L403.6 320.0L400.5 321.2L399.9 323.1L399.2 320.0L397.4 316.9L396.8 313.1L397.4 310.0Z" fill="#ffffb2" stroke="#ffffb2"/>
<path d="M385.5 323.5L389.5 323.8L389.2 325.6L385.5 326.0Z" fill="#fff" stroke="#fff"/>
<path d="M385.5 326.0L389.2 325.6L389.5 323.8L393.6 323.5L394.9 325.6L396.1 328.8L395.5 332.5L394.2 335.0L391.8 335.6L389.9 338.1L388.6 338.8L386.1 335.6L383.6 331.9L383.6 328.8Z" fill="#f03b20" stroke="#f03b20"/>
<path d="M393.6 323.5L395.5 323.1L399.9 323.1L400.5 321.2L403.6 320.0L404.9 321.2L404.2 325.6L403.6 330.0L401.8 333.8L399.9 337.5L396.8 340.6L394.2 341.9L391.8 341.9L390.5 340.0L389.9 338.1L391.8 335.6L394.2 335.0L395.5 332.5L396.1 328.8L394.9 325.6Z" fill="#feb24c" stroke="#feb24c"/>
<path d="M440.6 302.5L442.5 298.8L445.0 295.0L446.9 291.2L448.1 292.5L450.6 291.9L452.5 292.5L455.6 295.0L458.8 297.2L460.0 300.0L461.9 302.5L465.0 305.0L472.5 308.1L467.5 312.5L462.5 315.6L458.1 318.5L453.8 319.4L450.0 318.8L445.6 316.9L443.8 314.4L441.9 311.2L439.4 308.8L440.6 306.9Z" fill="#fd8d3c" stroke="#fd8d3c"/>
<path d="M458.8 299.4L465.0 301.2L470.0 301.9L475.0 300.6L480.0 299.0L480.0 305.0L478.1 310.0L475.0 315.0L471.2 320.0L466.9 325.0L462.5 329.4L459.4 332.8L458.5 332.5L458.1 327.5L458.8 321.9L458.1 318.5L462.5 315.6L467.5 312.5L472.5 308.1L465.0 305.0L461.9 302.5L460.0 300.0Z" fill="#feb24c" stroke="#feb24c"/>
<path d="M433.8 320.6L435.6 319.4L438.8 318.8L441.9 316.9L443.1 320.0L443.5 325.0L442.5 328.1L441.0 331.2L434.4 331.5L431.9 331.2L432.2 328.1L433.1 324.4Z" fill="#f03b20" stroke="#f03b20"/>
<path d="M441.9 316.9L443.8 314.4L445.6 316.9L450.0 318.8L453.8 319.4L458.1 318.5L458.8 321.9L458.1 327.5L458.5 332.5L456.9 335.6L455.0 338.1L453.5 340.6L449.4 336.2L445.0 333.1L441.0 331.2L442.5 328.1L443.5 325.0L443.1 320.0Z" fill="#f03b20" stroke="#f03b20"/>
<path d="M430.0 333.1L432.2 331.5L434.4 331.5L433.8 333.8L432.8 336.2L430.6 336.5Z" fill="#feb24c" stroke="#feb24c"/>
<path d="M430.6 336.5L432.8 336.2L433.5 338.1L431.9 340.6L430.6 339.8Z" fill="#f03b20" stroke="#f03b20"/>
<path d="M413.1 366.2L414.4 362.5L418.1 361.2L418.8 358.1L423.1 360.0L428.1 361.2L430.6 363.5L429.4 360.0L428.1 356.2L429.4 351.9L431.9 351.0L435.6 351.5L438.8 353.5L441.2 355.0L440.0 358.8L439.4 362.5L438.8 365.0L436.9 365.0L433.8 366.9L431.2 369.4L427.5 371.9L423.8 375.0L420.0 374.4L415.6 374.4L413.8 370.6Z" fill="#bd0026" stroke="#bd0026"/>
<path d="M441.2 355.0L442.2 357.5L441.9 361.2L443.1 364.4L444.8 367.5L444.4 371.2L442.8 372.5L441.9 369.4L440.6 366.2L438.8 365.0L439.4 362.5L440.0 358.8Z" fill="#bd0026" stroke="#bd0026"/>
<path d="M420.0 374.4L423.8 375.0L427.5 371.9L431.2 369.4L434.4 370.6L437.5 373.1L437.8 377.5L436.2 381.9L433.8 385.0L431.2 386.9L428.1 385.6L426.2 383.1L423.8 380.0L421.9 376.9Z" fill="#bd0026" stroke="#bd0026"/>
<path d="M400.0 402.5L403.1 404.4L406.9 403.8L408.1 395.0L410.0 398.8L412.5 395.6L416.2 396.2L420.0 394.4L422.5 391.2L425.6 388.1L428.1 385.6L431.2 386.9L433.8 385.0L434.4 387.5L435.0 392.5L435.6 396.2L436.2 398.8L435.0 402.5L432.5 406.2L429.4 410.0L425.6 413.8L421.2 416.5L416.2 417.5L411.2 417.8L406.2 419.8L403.1 418.8L402.5 413.1L400.6 407.5Z" fill="#f03b20" stroke="#f03b20"/>
<path d="M431.9 396.9L433.5 396.0L434.8 398.1L433.8 400.2L432.0 399.4Z" fill="#bd0026" stroke="#bd0026"/>
<path d="M423.1 406.9L425.6 404.4L428.1 405.2L426.9 407.8L424.4 409.0Z" fill="#fff" stroke="#fff"/>
<path d="M475.6 360.6L477.5 363.8L478.1 368.1L476.2 373.8L474.4 380.0L471.9 386.9L469.4 393.1L465.0 396.0L461.9 394.4L460.6 390.0L461.2 385.0L463.5 380.6L463.8 375.0L464.8 371.9L469.4 369.4L472.5 365.6Z" fill="#feb24c" stroke="#feb24c"/>
<path d="M492.2 381.2L493.8 381.2L493.8 382.8L492.2 382.8Z" fill="#bd0026" stroke="#bd0026"/>
<path d="M496.0 237.6L500.1 235.9L506.0 233.4L511.0 231.8L515.2 229.3L516.8 231.8L521.9 231.4L517.7 233.8L518.2 238.4L516.0 242.6L511.8 246.0L508.5 249.3L504.3 251.5L499.3 252.1L497.6 246.0L495.5 241.0Z" fill="#feb24c" stroke="#feb24c"/>
<path d="M517.7 233.8L521.9 231.4L525.2 234.3L531.0 237.6L526.9 240.1L526.0 245.1L527.7 247.6L526.9 251.8L523.5 255.2L519.4 257.7L521.9 261.8L522.7 264.3L518.5 265.2L513.5 263.5L506.8 262.7L501.0 263.2L503.1 260.2L502.6 257.7L501.0 254.3L499.3 252.1L504.3 251.5L508.5 249.3L511.8 246.0L516.0 242.6L518.2 238.4Z" fill="#f03b20" stroke="#f03b20"/>
<path d="M567.8 259.0L571.2 255.0L573.8 253.1L576.9 252.5L578.1 255.6L579.4 257.5L577.5 259.4L575.6 261.9L575.0 265.0L572.5 267.5L570.6 269.4L569.4 267.5L570.0 265.0L568.1 263.1L564.4 261.9L561.0 260.6L560.6 256.5L561.5 256.2L563.1 259.4Z" fill="#f03b20" stroke="#f03b20"/>
<path d="M541.0 251.2L543.8 249.8L548.8 251.9L553.8 254.4L558.8 256.0L560.6 256.5L560.6 260.0L557.5 259.8L552.5 258.1L547.5 256.2L542.5 254.4Z" fill="#fd8d3c" stroke="#fd8d3c"/>
<path d="M561.5 256.2L565.6 255.0L568.5 256.9L567.8 259.0L563.1 259.4Z" fill="#fd8d3c" stroke="#fd8d3c"/>
<path d="M561.0 260.6L564.4 261.9L568.1 263.1L570.0 265.0L569.4 267.5L570.6 269.4L572.2 272.5L571.2 273.8L570.0 271.2L568.1 270.0L566.2 271.9L564.4 271.2L563.5 267.8L561.9 264.4Z" fill="#fd8d3c" stroke="#fd8d3c"/>
<path d="M578.1 255.6L580.6 255.0L583.1 258.1L582.5 261.9L584.4 265.6L586.2 268.8L588.8 271.2L590.6 273.1L590.0 275.0L587.5 276.9L585.6 278.8L585.0 281.9L586.9 285.0L588.8 290.0L590.0 295.0L590.6 300.0L589.4 303.1L588.1 300.0L587.5 295.0L585.6 290.0L584.4 285.6L581.9 287.5L578.8 287.5L577.5 283.1L576.2 278.8L573.8 275.0L572.2 272.5L570.6 269.4L572.5 267.5L575.0 265.0L575.6 261.9L577.5 259.4L579.4 257.5Z" fill="#f03b20" stroke="#f03b20"/>
<path d="M585.6 278.8L587.5 276.9L590.0 275.0L591.9 278.1L592.5 282.5L596.2 281.9L600.0 281.2L601.9 283.8L603.1 287.5L603.8 290.0L600.0 291.2L597.5 293.1L596.9 296.2L594.4 295.6L591.9 293.8L590.6 297.5L591.0 302.5L591.9 305.6L593.8 308.8L595.0 311.2L596.9 313.1L596.2 314.0L593.8 312.8L591.2 311.2L590.0 309.8L589.4 303.1L590.6 300.0L590.0 295.0L588.8 290.0L586.9 285.0L585.0 281.9Z" fill="#fd8d3c" stroke="#fd8d3c"/>
<path d="M590.6 273.1L592.5 271.2L595.0 272.5L597.5 275.0L600.0 276.9L598.8 278.8L601.2 280.6L604.4 283.8L607.5 287.5L608.8 291.2L606.2 291.9L603.8 290.0L603.1 287.5L601.9 283.8L600.0 281.2L596.2 281.9L592.5 282.5L591.9 278.1L590.0 275.0Z" fill="#fd8d3c" stroke="#fd8d3c"/>
<path d="M595.0 272.5L593.8 270.6L597.5 269.4L600.6 268.8L603.1 270.6L605.0 272.5L603.1 275.6L602.5 278.8L605.0 281.2L608.1 285.0L611.2 290.0L613.1 293.8L613.1 298.1L610.0 301.9L606.2 305.0L604.4 306.2L603.8 302.5L606.9 300.0L608.8 297.5L609.4 293.1L608.8 291.2L607.5 287.5L604.4 283.8L601.2 280.6L598.8 278.8L600.0 276.9L597.5 275.0Z" fill="#f03b20" stroke="#f03b20"/>
<path d="M597.5 293.1L600.0 291.2L603.8 291.9L606.2 291.9L608.8 291.2L609.4 293.1L608.8 297.5L606.9 300.0L603.8 301.2L600.6 300.6L598.8 298.1L597.5 295.6Z" fill="#feb24c" stroke="#feb24c"/>
<path d="M609.8 277.5L612.5 276.9L614.4 278.1L613.1 280.6L611.0 281.2L609.8 279.4Z" fill="#bd0026" stroke="#bd0026"/>
<path d="M634.4 263.8L636.2 263.1L636.9 266.2L636.0 270.0L635.0 271.2L633.8 268.1Z" fill="#f03b20" stroke="#f03b20"/>
<path d="M546.9 303.1L549.4 305.0L551.2 308.8L551.0 311.5L549.0 312.8L547.2 311.2L546.2 306.9Z" fill="#feb24c" stroke="#feb24c"/>
<path d="M655.6 211.0L658.1 211.9L661.2 213.8L664.4 214.4L666.9 215.0L666.2 217.2L663.8 217.8L663.1 219.4L660.6 220.0L658.1 219.8L656.2 218.1L657.2 215.6L656.5 213.1Z" fill="#fd8d3c" stroke="#fd8d3c"/>
<path d="M659.4 221.5L661.9 221.2L664.4 224.4L665.6 227.5L666.2 231.2L667.8 235.0L667.2 237.5L665.0 238.8L662.5 238.5L660.6 241.0L658.8 241.5L657.5 240.0L655.0 239.4L653.1 240.6L651.2 241.2L649.8 240.6L651.9 238.1L653.8 236.9L656.9 236.0L658.1 232.5L660.0 230.6L661.2 227.5L660.0 224.4Z" fill="#fd8d3c" stroke="#fd8d3c"/>
<path d="M653.1 241.0L656.9 240.2L657.2 241.9L653.8 243.1Z" fill="#fd8d3c" stroke="#fd8d3c"/>
<path d="M646.9 242.2L649.8 240.6L651.9 242.5L652.5 245.0L651.2 247.5L649.8 246.9L648.8 244.4L647.2 243.8Z" fill="#fd8d3c" stroke="#fd8d3c"/>
<path d="M671.2 343.8L673.0 343.8L673.0 346.5L671.2 346.5Z" fill="#f03b20" stroke="#f03b20"/>
<path d="M687.5 336.2L695.0 340.0L700.0 343.8L702.5 348.8L706.2 353.8L708.8 356.2L705.0 357.0L700.0 353.8L695.0 352.5L687.0 351.2Z" fill="#feb24c" stroke="#feb24c"/>
<path d="M705.0 343.2L710.0 342.5L713.8 340.0L712.5 336.2L715.5 338.2L715.5 342.5L710.0 345.0L705.5 345.0Z" fill="#feb24c" stroke="#feb24c"/>
<path d="M718.5 342.5L720.0 342.5L721.5 346.2L720.0 346.5Z" fill="#feb24c" stroke="#feb24c"/>
<path d="M582.5 315.6L586.9 315.0L590.6 318.1L593.8 321.9L598.1 325.6L601.9 329.4L604.4 333.1L607.5 337.2L607.2 341.9L605.6 344.8L603.1 343.1L600.0 339.4L596.9 335.0L593.8 330.0L591.2 325.0L587.5 320.6L584.4 317.8Z" fill="#f03b20" stroke="#f03b20"/>
<path d="M606.0 345.6L608.8 344.4L612.5 345.6L616.2 346.9L620.0 346.2L623.8 348.5L627.5 349.8L628.8 351.2L625.6 351.9L621.2 350.6L616.9 350.0L611.9 349.0L607.8 347.8Z" fill="#f03b20" stroke="#f03b20"/>
<path d="M631.2 351.2L635.0 350.2L636.9 351.2L633.8 352.5L631.5 352.5Z" fill="#f03b20" stroke="#f03b20"/>
<path d="M638.1 351.0L642.5 350.6L645.6 350.2L646.0 351.2L643.1 352.1L639.4 352.1Z" fill="#f03b20" stroke="#f03b20"/>
<path d="M636.2 353.8L638.8 354.0L640.2 355.6L638.1 355.2Z" fill="#f03b20" stroke="#f03b20"/>
<path d="M646.2 355.0L648.8 353.1L650.6 352.2L651.0 353.1L648.1 355.6Z" fill="#f03b20" stroke="#f03b20"/>
<path d="M614.8 325.6L616.9 323.8L616.9 326.9L620.6 326.2L624.4 325.0L626.9 322.8L629.4 320.6L630.6 318.1L633.8 318.5L635.0 321.9L636.9 326.2L634.4 327.5L633.5 331.2L631.9 334.4L630.6 338.1L628.1 339.4L625.0 338.1L621.9 337.5L618.1 336.9L616.9 333.8L615.0 330.6L614.4 327.5Z" fill="#f03b20" stroke="#f03b20"/>
<path d="M616.2 324.4L619.4 322.8L623.1 320.6L625.6 318.1L628.1 315.6L630.6 313.1L632.5 311.0L635.0 313.1L637.5 315.0L636.2 316.9L633.8 318.5L630.6 318.1L629.4 320.6L626.9 322.8L624.4 325.0L620.6 326.2L616.9 326.9Z" fill="#fed976" stroke="#fed976"/>
<path d="M593.8 313.1L595.6 312.2L598.1 313.8L600.6 316.9L601.5 320.6L603.1 323.8L603.5 326.0L601.5 325.2L598.8 322.5L595.6 319.4L594.0 316.2Z" fill="#fed976" stroke="#fed976"/>
<path d="M640.0 327.5L642.5 326.0L646.2 326.5L650.0 326.2L651.9 325.2L650.6 327.5L647.5 328.8L643.1 329.0L641.2 330.6L644.4 331.9L647.5 331.0L645.0 333.1L643.1 335.6L645.0 338.1L646.9 341.2L646.2 343.5L644.4 342.5L642.5 339.4L641.2 338.1L640.6 341.2L640.2 343.8L638.1 343.5L638.1 340.0L636.9 336.2L638.1 332.5L639.0 329.4Z" fill="#f03b20" stroke="#f03b20"/>
<path d="M656.9 324.0L659.4 324.4L660.0 326.9L658.5 328.8L658.1 331.2L657.2 327.5Z" fill="#f03b20" stroke="#f03b20"/>
<path d="M653.1 337.2L656.2 337.0L656.2 338.5L653.5 338.5Z" fill="#f03b20" stroke="#f03b20"/>
<path d="M658.1 336.5L662.5 336.5L664.8 338.1L661.2 338.4Z" fill="#f03b20" stroke="#f03b20"/>
<path d="M637.2 281.2L640.6 280.6L641.9 283.1L641.2 286.9L641.0 290.0L642.5 291.9L645.0 292.5L646.9 294.4L649.4 296.2L651.2 298.1L651.5 300.6L650.0 300.0L648.1 298.1L646.2 296.2L643.8 295.0L641.2 294.4L640.0 296.2L638.5 294.4L639.0 291.9L637.5 290.0L636.5 286.9L636.9 283.8Z" fill="#fd8d3c" stroke="#fd8d3c"/>
<path d="M642.5 298.8L644.8 299.4L644.4 301.5L642.8 301.0Z" fill="#fd8d3c" stroke="#fd8d3c"/>
<path d="M644.4 301.9L646.9 301.2L647.5 303.5L646.2 305.2L644.8 304.4Z" fill="#fd8d3c" stroke="#fd8d3c"/>
<path d="M648.1 299.4L650.6 300.6L650.0 303.1L648.5 302.2Z" fill="#fd8d3c" stroke="#fd8d3c"/>
<path d="M632.5 306.9L636.9 300.0L637.8 300.6L633.5 307.2Z" fill="#fd8d3c" stroke="#fd8d3c"/>
<path d="M643.5 310.0L646.2 308.1L649.4 306.2L651.2 304.8L653.5 306.9L654.0 311.2L652.2 314.4L650.6 313.1L648.8 310.6L645.6 310.6Z" fill="#fd8d3c" stroke="#fd8d3c"/>
<path d="M664.4 331.5L668.1 330.2L671.9 331.0L673.1 333.8L671.9 335.6L674.4 337.5L677.5 335.0L680.6 333.5L684.4 334.4L687.5 336.2L687.2 346.9L685.0 347.2L680.6 345.6L678.8 343.8L675.0 341.2L673.1 339.4L669.4 338.1L668.1 335.6L665.6 333.1Z" fill="#f03b20" stroke="#f03b20"/>
<path d="M614.1 418.5L616.0 415.0L617.9 410.0L617.2 405.0L617.9 400.0L616.6 397.5L618.5 393.8L618.5 390.0L620.4 386.9L624.8 383.8L629.8 382.2L634.8 380.6L639.1 378.1L641.6 374.4L644.1 372.5L647.2 369.4L651.0 366.2L653.5 365.6L656.6 367.5L659.1 365.6L661.6 361.9L664.8 360.6L666.6 358.1L668.5 359.4L672.2 360.6L676.6 361.2L675.4 363.8L673.5 366.2L672.2 368.8L676.0 371.2L679.1 373.8L681.6 375.0L684.1 373.1L686.0 368.8L687.2 363.8L688.5 359.4L689.8 357.5L691.0 360.6L692.2 365.0L694.8 366.9L695.4 371.9L695.4 376.9L697.9 379.4L699.8 383.1L701.0 386.2L702.9 389.4L704.8 392.5L706.0 395.6L705.4 400.0L704.1 403.8L702.2 407.5L700.4 411.2L697.9 415.0L695.4 418.1L693.8 421.2L688.8 425.0L683.8 428.0L677.5 430.0L673.8 429.5L669.5 428.8L665.0 426.2L664.1 421.9L664.8 415.6L662.2 418.8L660.0 420.6L658.5 417.5L657.2 413.8L653.5 411.9L648.5 411.9L642.2 413.1L637.2 415.0L632.9 417.5L627.9 418.1L622.2 419.4L617.2 420.6Z" fill="#bd0026" stroke="#bd0026"/>
<path d="M669.5 436.2L676.2 435.5L675.0 439.5L671.2 442.0L668.0 442.5L668.0 439.5Z" fill="#bd0026" stroke="#bd0026"/>
<path d="M743.1 367.5L744.4 367.2L745.0 369.8L745.6 372.2L744.4 372.5L743.5 370.0Z" fill="#fd8d3c" stroke="#fd8d3c"/>
<path d="M766.0 375.0L768.1 374.0L769.5 375.2L768.1 376.9L766.2 376.5Z" fill="#fd8d3c" stroke="#fd8d3c"/>
<path d="M770.0 371.9L773.5 370.8L774.0 371.8L770.6 373.2Z" fill="#fd8d3c" stroke="#fd8d3c"/>
</g>
<g fill="none" stroke="#333" stroke-opacity="0.5" stroke-width="0.4" stroke-linejoin="round">
<path d="M127.5 151.9L104.4 173.1L106.2 174.8L110.0 175.6L112.5 175.2L113.1 178.8L112.5 181.9L114.4 184.4L111.9 186.5L110.2 185.0L110.6 181.9L110.0 178.8L107.5 176.9L105.0 175.0L101.9 173.8L98.1 172.5L94.4 172.2L91.2 173.1L87.5 174.4L82.5 176.2L81.0 176.0L85.0 173.8L88.8 171.5L85.0 172.5L80.0 174.8L75.6 176.9L70.6 178.8L65.0 181.5L58.8 183.8L51.2 186.0L44.4 187.8L44.0 186.9L50.6 184.8L57.5 182.5L63.8 180.0L68.8 177.8L65.0 177.2L61.2 176.9L61.0 175.0L63.1 174.8L60.6 173.1L61.0 171.2L64.4 169.4L68.8 167.8L74.4 166.2L78.8 164.4L80.0 162.8L75.0 163.1L71.2 163.5L70.6 161.5L73.1 160.6L77.5 159.8L81.2 159.4L82.5 158.1L81.9 156.2L82.5 154.4L86.9 153.8L91.9 151.9L96.2 150.6L101.9 149.4L107.5 148.1L112.5 149.4L117.5 150.2L122.5 151.0Z"/>
<path d="M70.2 181.2L73.8 179.4L76.5 179.0L75.6 180.2L71.9 182.2Z"/>
<path d="M56.9 165.6L61.0 165.9L61.2 166.9L57.2 166.6Z"/>
<path d="M55.2 173.8L58.1 173.5L58.1 174.8L55.5 174.8Z"/>
<path d="M115.0 201.5L171.2 201.5L172.2 200.5L173.0 201.8L178.8 203.0L184.2 203.8L188.0 205.5L191.2 208.8L192.5 211.8L191.8 215.0L190.0 218.0L188.0 220.0L191.2 219.2L195.0 218.0L198.0 215.5L202.5 215.0L207.5 213.0L212.5 211.2L217.5 210.0L220.0 207.5L221.8 205.5L224.2 206.2L224.8 210.5L223.0 212.5L220.0 213.8L216.8 215.5L215.0 218.0L215.5 220.0L212.5 221.0L208.8 221.8L206.2 223.8L203.8 226.2L201.8 228.8L200.0 231.8L198.8 230.0L199.2 233.0L198.5 236.2L196.8 238.0L193.8 240.0L190.0 242.5L186.8 245.0L184.2 247.5L183.0 250.0L183.8 253.8L184.0 258.0L183.5 261.8L181.8 263.8L180.0 261.8L179.0 258.8L178.5 255.0L177.8 251.8L175.0 251.0L171.8 250.2L168.8 250.5L165.0 251.2L162.5 252.8L160.0 251.5L156.2 251.8L151.8 253.5L148.0 255.5L145.5 258.5L144.2 261.5L142.5 261.2L141.2 258.0L139.2 253.8L136.8 251.2L133.0 251.8L130.5 248.8L128.0 246.5L124.2 246.8L120.0 247.2L114.2 245.0L110.0 243.5L106.2 243.8L105.5 242.5L102.5 240.0L100.2 237.5L99.8 232.5L98.8 227.5L100.0 222.5L102.5 217.5L105.5 212.5L108.8 207.5L110.5 203.0L112.5 205.5L114.2 203.8Z"/>
<path d="M106.2 243.8L110.0 243.5L114.2 245.0L120.0 247.2L124.2 246.8L128.0 246.5L130.5 248.8L133.0 251.8L136.8 251.2L139.2 253.8L141.2 258.0L142.5 261.2L144.2 261.5L143.0 267.5L143.8 275.0L147.0 280.0L152.5 280.8L157.5 277.5L159.5 273.8L166.5 272.8L165.5 276.2L163.8 279.2L162.5 281.0L160.5 282.0L159.2 282.5L154.2 283.0L153.8 286.8L152.2 289.2L151.2 288.0L148.8 286.5L143.0 288.0L138.8 286.8L132.5 283.8L126.8 280.0L123.0 276.2L123.8 272.5L121.8 267.5L118.8 261.8L116.2 256.8L113.8 251.2L113.0 246.2L112.0 244.5L109.5 245.0L109.2 246.8L110.0 251.2L111.2 256.2L113.0 261.8L115.5 266.8L116.2 268.0L115.0 269.0L111.8 264.2L109.2 259.2L106.8 255.5L106.8 250.0L106.2 244.2Z"/>
<path d="M171.2 271.2L174.4 269.4L179.4 268.5L183.8 269.8L187.5 271.9L190.6 274.4L194.4 276.0L193.1 277.2L188.8 276.9L186.9 277.5L187.5 275.6L184.4 273.8L180.6 271.2L176.2 270.6L173.1 271.9Z"/>
<path d="M194.0 280.6L196.9 280.2L197.5 278.1L196.9 277.2L200.0 277.5L200.2 279.8L200.6 281.9L198.1 281.9L194.4 281.9Z"/>
<path d="M200.0 277.5L203.1 276.9L206.2 279.0L207.8 280.2L205.0 281.5L200.6 281.9L200.2 279.8Z"/>
<path d="M185.2 281.0L188.1 281.0L189.8 282.2L186.9 282.8L185.2 282.0Z"/>
<path d="M186.2 259.0L190.0 258.8L191.0 260.6L189.8 261.0L189.0 259.8L186.5 260.0Z"/>
<path d="M186.9 263.1L188.5 263.5L189.0 266.5L187.5 266.9Z"/>
<path d="M160.6 281.9L162.5 281.0L163.1 283.1L161.5 286.9L160.2 286.2Z"/>
<path d="M154.4 283.1L159.4 282.5L160.6 281.9L160.2 286.2L161.5 287.2L162.5 288.8L160.0 290.6L157.5 292.2L154.4 291.5L152.2 289.4L153.8 286.9Z"/>
<path d="M157.5 292.2L160.0 290.6L162.5 292.5L161.9 294.4L159.4 293.8Z"/>
<path d="M162.5 288.8L165.6 287.8L170.0 287.8L172.8 289.4L171.9 290.6L168.8 291.2L166.9 292.5L164.4 294.6L162.5 292.5L160.0 290.6Z"/>
<path d="M164.4 294.6L166.9 292.5L168.8 291.2L171.9 290.6L172.8 289.4L172.2 293.1L171.5 296.9L170.6 300.0L167.5 300.0L165.6 298.1L163.5 296.2Z"/>
<path d="M166.2 300.2L167.5 300.0L170.6 300.0L172.5 302.5L174.0 305.0L173.1 307.5L170.6 305.0L168.5 303.1Z"/>
<path d="M173.1 307.5L174.0 305.0L176.9 306.2L180.0 304.8L183.1 305.0L185.0 307.5L184.8 309.8L182.8 308.1L180.6 307.2L178.5 308.8L177.8 310.6L175.6 309.0Z"/>
<path d="M9.0 276.9L11.2 276.2L12.1 277.8L10.6 279.8L9.0 279.4Z"/>
<path d="M5.0 272.5L7.5 273.1L9.8 274.4L9.5 275.1L6.9 274.0L5.0 273.2Z"/>
<path d="M1.9 270.9L3.5 271.0L3.5 271.8L1.9 271.6Z"/>
<path d="M200.0 296.9L196.9 298.8L193.1 300.0L189.4 301.9L186.2 306.2L184.8 310.6L184.4 315.0L185.0 319.4L183.1 321.9L181.2 324.4L181.9 326.2L186.2 327.5L190.0 329.4L191.2 332.5L194.4 334.4L200.6 335.0L201.2 339.4L201.0 336.9L201.2 332.5L201.9 327.5L203.8 325.6L207.5 325.0L207.5 320.0L207.2 315.0L206.2 313.1L202.5 311.9L199.4 310.6L196.9 307.5L195.6 304.4L196.2 301.9L198.1 299.4Z"/>
<path d="M176.9 328.1L181.2 326.2L181.9 326.2L186.2 327.5L190.0 329.4L191.2 332.5L189.8 332.5L186.9 335.0L183.8 337.5L181.2 341.2L177.5 340.6L178.1 337.5L176.2 333.8Z"/>
<path d="M196.9 300.6L199.4 298.8L202.8 298.1L203.8 300.0L207.5 301.2L211.9 301.9L215.6 301.2L220.0 301.9L223.1 303.8L225.0 307.5L223.1 310.0L221.9 313.1L223.1 316.2L220.0 317.5L216.2 319.0L214.4 318.5L214.8 321.9L216.9 323.1L213.1 326.2L210.6 327.2L208.8 325.0L207.5 325.0L207.5 320.0L207.2 315.0L206.2 313.1L202.5 311.9L199.4 310.6L196.9 307.5L195.6 304.4L196.2 301.9Z"/>
<path d="M197.8 301.2L199.4 300.6L199.8 303.8L198.5 305.0L197.5 303.5Z"/>
<path d="M225.0 307.5L227.5 309.4L230.0 312.5L231.2 315.0L229.8 318.1L230.6 321.2L231.9 323.8L228.8 325.6L225.6 325.0L225.0 321.2L225.0 318.1L223.1 316.2L221.9 313.1L223.1 310.0Z"/>
<path d="M231.2 315.0L235.0 313.5L238.5 314.0L238.1 318.1L237.5 322.8L235.0 323.5L231.9 323.8L230.6 321.2L229.8 318.1Z"/>
<path d="M177.5 340.6L181.2 341.2L183.8 337.5L186.9 335.0L189.8 332.5L191.2 332.5L194.4 334.4L200.6 335.0L201.2 339.4L196.9 341.9L193.8 345.0L193.1 348.1L195.0 351.9L198.1 355.0L201.2 353.8L203.8 357.5L205.5 365.0L205.0 372.5L204.5 376.2L200.0 373.8L192.5 367.5L187.5 360.0L182.5 351.2L178.8 345.0L175.5 341.2Z"/>
<path d="M205.0 358.1L209.4 355.0L212.5 354.8L213.1 358.1L216.9 360.6L221.2 362.8L224.4 364.4L225.6 367.5L226.2 370.6L230.0 372.5L231.9 375.6L232.2 379.4L230.0 380.0L226.2 379.8L223.1 380.6L221.9 383.1L221.5 386.2L218.8 387.5L215.0 386.9L211.9 388.1L208.8 383.8L207.5 379.4L205.6 375.0L204.8 370.0L205.2 365.0Z"/>
<path d="M223.1 380.6L226.2 379.8L230.0 380.0L232.2 379.4L232.8 383.1L235.0 386.2L237.5 387.5L240.6 391.2L241.2 395.0L243.1 397.5L241.9 400.0L238.8 400.6L235.0 400.0L232.8 399.4L233.8 395.6L233.1 392.5L230.0 390.0L225.6 388.1L221.9 386.2L221.9 383.1Z"/>
<path d="M211.8 388.0L215.0 386.8L218.8 387.5L221.5 386.2L225.5 388.0L230.0 390.0L233.0 392.5L233.8 395.5L232.8 399.2L235.0 400.0L238.8 400.5L241.8 400.0L243.0 397.5L242.0 401.2L238.8 405.0L236.2 408.8L235.5 413.8L236.2 418.8L240.0 423.8L239.5 427.5L236.2 430.0L231.2 431.2L230.0 435.0L231.2 437.5L227.5 440.0L228.8 443.8L226.2 447.5L225.0 451.2L228.8 453.8L228.0 457.5L226.2 461.2L227.5 465.0L225.0 465.0L220.0 462.5L216.2 457.5L214.5 450.0L212.5 442.5L211.2 435.0L209.5 427.5L208.0 417.5L207.5 407.5L208.8 400.0L210.0 393.8Z"/>
<path d="M229.5 466.2L233.0 468.8L237.0 471.2L235.0 472.5L230.5 470.5Z"/>
<path d="M236.2 408.8L242.5 411.2L247.0 416.2L245.0 419.5L240.0 420.0L236.2 418.8L235.5 413.8Z"/>
<path d="M350.6 235.6L353.1 236.9L357.5 237.2L359.0 240.0L360.2 244.0L357.5 245.6L353.8 247.2L350.6 250.0L346.9 251.9L344.4 253.8L341.2 255.6L337.5 256.5L334.4 256.5L336.9 254.4L340.0 251.9L342.2 248.8L342.5 245.0L345.0 241.9L348.1 239.4L350.0 236.9Z"/>
<path d="M457.2 226.2L459.4 227.5L462.5 226.9L465.6 226.2L466.2 228.8L468.8 230.6L472.5 231.9L476.2 233.1L480.0 231.2L483.8 230.0L488.1 230.6L492.5 233.1L495.0 235.0L495.2 238.1L496.2 242.5L497.5 246.2L498.8 248.8L498.1 251.2L500.0 253.8L502.5 256.2L503.8 258.8L501.2 260.6L500.6 263.1L496.9 262.5L492.5 261.2L490.2 259.5L488.1 258.5L485.6 259.8L481.5 258.8L478.4 256.5L475.0 253.5L472.5 251.0L470.0 248.5L468.1 245.6L465.0 243.1L463.1 240.6L461.9 238.1L463.1 236.2L461.2 233.1L459.4 230.0L458.1 228.1Z"/>
<path d="M418.1 246.9L422.5 246.9L426.9 248.1L430.0 247.2L434.4 247.5L438.1 248.1L439.8 251.9L438.8 254.4L437.8 256.2L436.2 253.1L435.0 251.5L435.6 254.4L438.1 258.8L441.2 263.8L444.4 268.8L446.2 271.2L420.0 271.2L418.8 258.8Z"/>
<path d="M459.0 297.2L461.2 296.5L462.2 298.8L460.6 300.2L459.0 299.4Z"/>
<path d="M481.9 280.0L485.0 277.5L488.1 276.2L488.8 272.5L488.1 268.1L489.4 264.4L493.1 266.9L496.2 269.4L497.8 271.2L496.2 275.0L493.8 278.8L490.6 281.9L487.5 283.8L483.8 285.2L482.2 282.5Z"/>
<path d="M489.1 260.0L490.2 259.8L490.0 261.9Z"/>
<path d="M466.5 251.9L468.5 250.6L470.0 253.1L468.8 254.4L467.2 253.5Z"/>
<path d="M323.2 290.6L324.9 287.5L328.6 285.6L331.8 286.9L334.9 289.4L336.8 289.4L336.5 290.0L336.8 293.1L336.5 296.0L333.0 296.2L329.2 295.6L324.9 296.0L324.0 293.8Z"/>
<path d="M324.5 293.0L330.5 293.0L330.5 293.8L324.5 293.8Z"/>
<path d="M324.9 296.2L328.6 296.0L331.1 296.9L329.9 299.4L327.4 299.0L325.5 297.8Z"/>
<path d="M329.9 299.4L331.1 296.9L336.5 296.0L340.5 296.9L343.0 298.1L343.6 301.2L344.2 302.8L343.9 307.5L343.6 308.8L342.4 309.8L340.8 307.2L338.6 307.2L338.0 304.4L336.1 302.8L334.0 303.5L332.8 305.6L330.5 303.1Z"/>
<path d="M332.8 305.6L334.0 303.5L336.1 302.8L338.0 304.4L338.6 307.2L336.8 310.2L334.9 310.6L333.2 308.1Z"/>
<path d="M336.8 310.2L338.6 307.2L340.8 307.2L342.4 309.8L343.6 311.2L345.2 314.4L345.2 317.2L342.4 315.2L339.2 313.1Z"/>
<path d="M344.2 302.8L347.4 301.9L350.8 302.8L354.2 303.5L355.5 306.2L355.2 310.0L356.1 313.1L355.5 315.2L351.8 315.0L348.0 316.0L345.5 317.2L345.2 314.4L343.6 311.2L342.4 309.8L343.6 308.8L343.9 307.5Z"/>
<path d="M348.8 264.0L350.8 288.5L336.8 289.4L336.5 290.0L336.8 293.1L336.5 296.0L340.5 296.9L343.0 298.1L343.6 301.2L344.2 302.8L347.4 301.9L350.8 302.8L351.5 299.4L353.6 296.9L356.1 294.4L359.2 291.9L361.1 290.0L363.6 291.9L365.5 289.4L370.5 288.1L372.4 285.0L372.8 279.4Z"/>
<path d="M350.8 302.8L351.5 299.4L353.6 296.9L356.1 294.4L359.2 291.9L361.1 290.0L363.6 291.9L366.1 295.0L368.0 296.9L366.8 299.4L363.0 300.0L359.2 300.0L356.1 300.2L355.5 302.8L354.2 303.5Z"/>
<path d="M356.1 300.2L359.2 300.0L363.0 300.2L363.6 303.8L364.5 308.8L364.9 313.1L361.8 315.0L358.0 316.5L355.8 315.6L356.1 313.1L355.2 310.0L355.5 306.2L354.2 303.5L355.5 302.8Z"/>
<path d="M365.5 301.0L366.8 299.4L368.0 296.9L371.1 298.1L371.1 301.9L370.2 306.2L369.5 312.5L367.0 313.1L366.5 304.4Z"/>
<path d="M371.1 298.1L373.0 293.8L377.4 292.8L383.0 294.4L389.9 294.4L394.2 293.5L396.1 295.6L395.5 299.4L393.6 303.8L391.8 307.5L389.2 310.6L386.1 311.2L383.6 313.8L382.4 316.9L379.2 317.5L376.1 317.2L374.2 314.4L371.8 312.8L369.5 312.5L370.2 306.2L371.1 301.9Z"/>
<path d="M372.8 279.4L388.1 268.8L395.0 269.0L398.1 273.1L397.4 280.0L396.1 286.2L394.5 290.6L394.2 293.5L389.9 294.4L383.0 294.4L377.4 292.8L373.0 293.8L371.1 298.1L368.0 296.9L366.1 295.0L363.6 291.9L365.5 289.4L370.5 288.1L372.4 285.0Z"/>
<path d="M395.0 269.0L396.5 268.5L416.9 277.5L417.4 287.5L414.9 290.6L414.2 295.0L415.5 299.4L414.2 300.6L413.0 302.5L409.2 305.0L405.5 306.2L400.5 308.8L398.6 307.5L397.4 304.4L396.1 300.6L395.5 299.4L396.1 295.6L394.2 293.5L394.5 290.6L396.1 286.2L397.4 280.0L398.1 273.1Z"/>
<path d="M395.5 299.4L396.1 300.6L397.4 304.4L398.6 307.5L397.4 310.0L396.8 313.1L397.4 316.9L399.2 320.0L399.9 323.1L395.5 323.1L393.6 323.5L389.5 323.8L385.5 323.5L384.2 319.4L382.8 316.9L383.6 313.8L386.1 311.2L389.2 310.6L391.8 307.5L393.6 303.8Z"/>
<path d="M398.6 307.5L400.5 308.8L405.5 306.2L409.2 305.0L413.0 302.5L414.2 300.6L416.8 301.2L418.8 305.0L421.9 308.1L424.4 311.9L426.9 315.6L424.0 316.0L418.0 316.9L414.2 318.1L410.5 316.9L406.8 318.1L403.6 320.0L400.5 321.2L399.9 323.1L399.2 320.0L397.4 316.9L396.8 313.1L397.4 310.0Z"/>
<path d="M385.5 323.5L389.5 323.8L389.2 325.6L385.5 326.0Z"/>
<path d="M385.5 326.0L389.2 325.6L389.5 323.8L393.6 323.5L394.9 325.6L396.1 328.8L395.5 332.5L394.2 335.0L391.8 335.6L389.9 338.1L388.6 338.8L386.1 335.6L383.6 331.9L383.6 328.8Z"/>
<path d="M393.6 323.5L395.5 323.1L399.9 323.1L400.5 321.2L403.6 320.0L404.9 321.2L404.2 325.6L403.6 330.0L401.8 333.8L399.9 337.5L396.8 340.6L394.2 341.9L391.8 341.9L390.5 340.0L389.9 338.1L391.8 335.6L394.2 335.0L395.5 332.5L396.1 328.8L394.9 325.6Z"/>
<path d="M440.6 302.5L442.5 298.8L445.0 295.0L446.9 291.2L448.1 292.5L450.6 291.9L452.5 292.5L455.6 295.0L458.8 297.2L460.0 300.0L461.9 302.5L465.0 305.0L472.5 308.1L467.5 312.5L462.5 315.6L458.1 318.5L453.8 319.4L450.0 318.8L445.6 316.9L443.8 314.4L441.9 311.2L439.4 308.8L440.6 306.9Z"/>
<path d="M458.8 299.4L465.0 301.2L470.0 301.9L475.0 300.6L480.0 299.0L480.0 305.0L478.1 310.0L475.0 315.0L471.2 320.0L466.9 325.0L462.5 329.4L459.4 332.8L458.5 332.5L458.1 327.5L458.8 321.9L458.1 318.5L462.5 315.6L467.5 312.5L472.5 308.1L465.0 305.0L461.9 302.5L460.0 300.0Z"/>
<path d="M433.8 320.6L435.6 319.4L438.8 318.8L441.9 316.9L443.1 320.0L443.5 325.0L442.5 328.1L441.0 331.2L434.4 331.5L431.9 331.2L432.2 328.1L433.1 324.4Z"/>
<path d="M441.9 316.9L443.8 314.4L445.6 316.9L450.0 318.8L453.8 319.4L458.1 318.5L458.8 321.9L458.1 327.5L458.5 332.5L456.9 335.6L455.0 338.1L453.5 340.6L449.4 336.2L445.0 333.1L441.0 331.2L442.5 328.1L443.5 325.0L443.1 320.0Z"/>
<path d="M430.0 333.1L432.2 331.5L434.4 331.5L433.8 333.8L432.8 336.2L430.6 336.5Z"/>
<path d="M430.6 336.5L432.8 336.2L433.5 338.1L431.9 340.6L430.6 339.8Z"/>
<path d="M413.1 366.2L414.4 362.5L418.1 361.2L418.8 358.1L423.1 360.0L428.1 361.2L430.6 363.5L429.4 360.0L428.1 356.2L429.4 351.9L431.9 351.0L435.6 351.5L438.8 353.5L441.2 355.0L440.0 358.8L439.4 362.5L438.8 365.0L436.9 365.0L433.8 366.9L431.2 369.4L427.5 371.9L423.8 375.0L420.0 374.4L415.6 374.4L413.8 370.6Z"/>
<path d="M441.2 355.0L442.2 357.5L441.9 361.2L443.1 364.4L444.8 367.5L444.4 371.2L442.8 372.5L441.9 369.4L440.6 366.2L438.8 365.0L439.4 362.5L440.0 358.8Z"/>
<path d="M420.0 374.4L423.8 375.0L427.5 371.9L431.2 369.4L434.4 370.6L437.5 373.1L437.8 377.5L436.2 381.9L433.8 385.0L431.2 386.9L428.1 385.6L426.2 383.1L423.8 380.0L421.9 376.9Z"/>
<path d="M400.0 402.5L403.1 404.4L406.9 403.8L408.1 395.0L410.0 398.8L412.5 395.6L416.2 396.2L420.0 394.4L422.5 391.2L425.6 388.1L428.1 385.6L431.2 386.9L433.8 385.0L434.4 387.5L435.0 392.5L435.6 396.2L436.2 398.8L435.0 402.5L432.5 406.2L429.4 410.0L425.6 413.8L421.2 416.5L416.2 417.5L411.2 417.8L406.2 419.8L403.1 418.8L402.5 413.1L400.6 407.5Z"/>
<path d="M431.9 396.9L433.5 396.0L434.8 398.1L433.8 400.2L432.0 399.4Z"/>
<path d="M423.1 406.9L425.6 404.4L428.1 405.2L426.9 407.8L424.4 409.0Z"/>
<path d="M475.6 360.6L477.5 363.8L478.1 368.1L476.2 373.8L474.4 380.0L471.9 386.9L469.4 393.1L465.0 396.0L461.9 394.4L460.6 390.0L461.2 385.0L463.5 380.6L463.8 375.0L464.8 371.9L469.4 369.4L472.5 365.6Z"/>
<path d="M492.2 381.2L493.8 381.2L493.8 382.8L492.2 382.8Z"/>
<path d="M496.0 237.6L500.1 235.9L506.0 233.4L511.0 231.8L515.2 229.3L516.8 231.8L521.9 231.4L517.7 233.8L518.2 238.4L516.0 242.6L511.8 246.0L508.5 249.3L504.3 251.5L499.3 252.1L497.6 246.0L495.5 241.0Z"/>
<path d="M517.7 233.8L521.9 231.4L525.2 234.3L531.0 237.6L526.9 240.1L526.0 245.1L527.7 247.6L526.9 251.8L523.5 255.2L519.4 257.7L521.9 261.8L522.7 264.3L518.5 265.2L513.5 263.5L506.8 262.7L501.0 263.2L503.1 260.2L502.6 257.7L501.0 254.3L499.3 252.1L504.3 251.5L508.5 249.3L511.8 246.0L516.0 242.6L518.2 238.4Z"/>
<path d="M567.8 259.0L571.2 255.0L573.8 253.1L576.9 252.5L578.1 255.6L579.4 257.5L577.5 259.4L575.6 261.9L575.0 265.0L572.5 267.5L570.6 269.4L569.4 267.5L570.0 265.0L568.1 263.1L564.4 261.9L561.0 260.6L560.6 256.5L561.5 256.2L563.1 259.4Z"/>
<path d="M541.0 251.2L543.8 249.8L548.8 251.9L553.8 254.4L558.8 256.0L560.6 256.5L560.6 260.0L557.5 259.8L552.5 258.1L547.5 256.2L542.5 254.4Z"/>
<path d="M561.5 256.2L565.6 255.0L568.5 256.9L567.8 259.0L563.1 259.4Z"/>
<path d="M561.0 260.6L564.4 261.9L568.1 263.1L570.0 265.0L569.4 267.5L570.6 269.4L572.2 272.5L571.2 273.8L570.0 271.2L568.1 270.0L566.2 271.9L564.4 271.2L563.5 267.8L561.9 264.4Z"/>
<path d="M578.1 255.6L580.6 255.0L583.1 258.1L582.5 261.9L584.4 265.6L586.2 268.8L588.8 271.2L590.6 273.1L590.0 275.0L587.5 276.9L585.6 278.8L585.0 281.9L586.9 285.0L588.8 290.0L590.0 295.0L590.6 300.0L589.4 303.1L588.1 300.0L587.5 295.0L585.6 290.0L584.4 285.6L581.9 287.5L578.8 287.5L577.5 283.1L576.2 278.8L573.8 275.0L572.2 272.5L570.6 269.4L572.5 267.5L575.0 265.0L575.6 261.9L577.5 259.4L579.4 257.5Z"/>
<path d="M585.6 278.8L587.5 276.9L590.0 275.0L591.9 278.1L592.5 282.5L596.2 281.9L600.0 281.2L601.9 283.8L603.1 287.5L603.8 290.0L600.0 291.2L597.5 293.1L596.9 296.2L594.4 295.6L591.9 293.8L590.6 297.5L591.0 302.5L591.9 305.6L593.8 308.8L595.0 311.2L596.9 313.1L596.2 314.0L593.8 312.8L591.2 311.2L590.0 309.8L589.4 303.1L590.6 300.0L590.0 295.0L588.8 290.0L586.9 285.0L585.0 281.9Z"/>
<path d="M590.6 273.1L592.5 271.2L595.0 272.5L597.5 275.0L600.0 276.9L598.8 278.8L601.2 280.6L604.4 283.8L607.5 287.5L608.8 291.2L606.2 291.9L603.8 290.0L603.1 287.5L601.9 283.8L600.0 281.2L596.2 281.9L592.5 282.5L591.9 278.1L590.0 275.0Z"/>
<path d="M595.0 272.5L593.8 270.6L597.5 269.4L600.6 268.8L603.1 270.6L605.0 272.5L603.1 275.6L602.5 278.8L605.0 281.2L608.1 285.0L611.2 290.0L613.1 293.8L613.1 298.1L610.0 301.9L606.2 305.0L604.4 306.2L603.8 302.5L606.9 300.0L608.8 297.5L609.4 293.1L608.8 291.2L607.5 287.5L604.4 283.8L601.2 280.6L598.8 278.8L600.0 276.9L597.5 275.0Z"/>
<path d="M597.5 293.1L600.0 291.2L603.8 291.9L606.2 291.9L608.8 291.2L609.4 293.1L608.8 297.5L606.9 300.0L603.8 301.2L600.6 300.6L598.8 298.1L597.5 295.6Z"/>
<path d="M609.8 277.5L612.5 276.9L614.4 278.1L613.1 280.6L611.0 281.2L609.8 279.4Z"/>
<path d="M634.4 263.8L636.2 263.1L636.9 266.2L636.0 270.0L635.0 271.2L633.8 268.1Z"/>
<path d="M546.9 303.1L549.4 305.0L551.2 308.8L551.0 311.5L549.0 312.8L547.2 311.2L546.2 306.9Z"/>
<path d="M655.6 211.0L658.1 211.9L661.2 213.8L664.4 214.4L666.9 215.0L666.2 217.2L663.8 217.8L663.1 219.4L660.6 220.0L658.1 219.8L656.2 218.1L657.2 215.6L656.5 213.1Z"/>
<path d="M659.4 221.5L661.9 221.2L664.4 224.4L665.6 227.5L666.2 231.2L667.8 235.0L667.2 237.5L665.0 238.8L662.5 238.5L660.6 241.0L658.8 241.5L657.5 240.0L655.0 239.4L653.1 240.6L651.2 241.2L649.8 240.6L651.9 238.1L653.8 236.9L656.9 236.0L658.1 232.5L660.0 230.6L661.2 227.5L660.0 224.4Z"/>
<path d="M653.1 241.0L656.9 240.2L657.2 241.9L653.8 243.1Z"/>
<path d="M646.9 242.2L649.8 240.6L651.9 242.5L652.5 245.0L651.2 247.5L649.8 246.9L648.8 244.4L647.2 243.8Z"/>
<path d="M671.2 343.8L673.0 343.8L673.0 346.5L671.2 346.5Z"/>
<path d="M687.5 336.2L695.0 340.0L700.0 343.8L702.5 348.8L706.2 353.8L708.8 356.2L705.0 357.0L700.0 353.8L695.0 352.5L687.0 351.2Z"/>
<path d="M705.0 343.2L710.0 342.5L713.8 340.0L712.5 336.2L715.5 338.2L715.5 342.5L710.0 345.0L705.5 345.0Z"/>
<path d="M718.5 342.5L720.0 342.5L721.5 346.2L720.0 346.5Z"/>
<path d="M582.5 315.6L586.9 315.0L590.6 318.1L593.8 321.9L598.1 325.6L601.9 329.4L604.4 333.1L607.5 337.2L607.2 341.9L605.6 344.8L603.1 343.1L600.0 339.4L596.9 335.0L593.8 330.0L591.2 325.0L587.5 320.6L584.4 317.8Z"/>
<path d="M606.0 345.6L608.8 344.4L612.5 345.6L616.2 346.9L620.0 346.2L623.8 348.5L627.5 349.8L628.8 351.2L625.6 351.9L621.2 350.6L616.9 350.0L611.9 349.0L607.8 347.8Z"/>
<path d="M631.2 351.2L635.0 350.2L636.9 351.2L633.8 352.5L631.5 352.5Z"/>
<path d="M638.1 351.0L642.5 350.6L645.6 350.2L646.0 351.2L643.1 352.1L639.4 352.1Z"/>
<path d="M636.2 353.8L638.8 354.0L640.2 355.6L638.1 355.2Z"/>
<path d="M646.2 355.0L648.8 353.1L650.6 352.2L651.0 353.1L648.1 355.6Z"/>
<path d="M614.8 325.6L616.9 323.8L616.9 326.9L620.6 326.2L624.4 325.0L626.9 322.8L629.4 320.6L630.6 318.1L633.8 318.5L635.0 321.9L636.9 326.2L634.4 327.5L633.5 331.2L631.9 334.4L630.6 338.1L628.1 339.4L625.0 338.1L621.9 337.5L618.1 336.9L616.9 333.8L615.0 330.6L614.4 327.5Z"/>
<path d="M616.2 324.4L619.4 322.8L623.1 320.6L625.6 318.1L628.1 315.6L630.6 313.1L632.5 311.0L635.0 313.1L637.5 315.0L636.2 316.9L633.8 318.5L630.6 318.1L629.4 320.6L626.9 322.8L624.4 325.0L620.6 326.2L616.9 326.9Z"/>
<path d="M593.8 313.1L595.6 312.2L598.1 313.8L600.6 316.9L601.5 320.6L603.1 323.8L603.5 326.0L601.5 325.2L598.8 322.5L595.6 319.4L594.0 316.2Z"/>
<path d="M640.0 327.5L642.5 326.0L646.2 326.5L650.0 326.2L651.9 325.2L650.6 327.5L647.5 328.8L643.1 329.0L641.2 330.6L644.4 331.9L647.5 331.0L645.0 333.1L643.1 335.6L645.0 338.1L646.9 341.2L646.2 343.5L644.4 342.5L642.5 339.4L641.2 338.1L640.6 341.2L640.2 343.8L638.1 343.5L638.1 340.0L636.9 336.2L638.1 332.5L639.0 329.4Z"/>
<path d="M656.9 324.0L659.4 324.4L660.0 326.9L658.5 328.8L658.1 331.2L657.2 327.5Z"/>
<path d="M653.1 337.2L656.2 337.0L656.2 338.5L653.5 338.5Z"/>
<path d="M658.1 336.5L662.5 336.5L664.8 338.1L661.2 338.4Z"/>
<path d="M637.2 281.2L640.6 280.6L641.9 283.1L641.2 286.9L641.0 290.0L642.5 291.9L645.0 292.5L646.9 294.4L649.4 296.2L651.2 298.1L651.5 300.6L650.0 300.0L648.1 298.1L646.2 296.2L643.8 295.0L641.2 294.4L640.0 296.2L638.5 294.4L639.0 291.9L637.5 290.0L636.5 286.9L636.9 283.8Z"/>
<path d="M642.5 298.8L644.8 299.4L644.4 301.5L642.8 301.0Z"/>
<path d="M644.4 301.9L646.9 301.2L647.5 303.5L646.2 305.2L644.8 304.4Z"/>
<path d="M648.1 299.4L650.6 300.6L650.0 303.1L648.5 302.2Z"/>
<path d="M632.5 306.9L636.9 300.0L637.8 300.6L633.5 307.2Z"/>
<path d="M643.5 310.0L646.2 308.1L649.4 306.2L651.2 304.8L653.5 306.9L654.0 311.2L652.2 314.4L650.6 313.1L648.8 310.6L645.6 310.6Z"/>
<path d="M664.4 331.5L668.1 330.2L671.9 331.0L673.1 333.8L671.9 335.6L674.4 337.5L677.5 335.0L680.6 333.5L684.4 334.4L687.5 336.2L687.2 346.9L685.0 347.2L680.6 345.6L678.8 343.8L675.0 341.2L673.1 339.4L669.4 338.1L668.1 335.6L665.6 333.1Z"/>
<path d="M614.1 418.5L616.0 415.0L617.9 410.0L617.2 405.0L617.9 400.0L616.6 397.5L618.5 393.8L618.5 390.0L620.4 386.9L624.8 383.8L629.8 382.2L634.8 380.6L639.1 378.1L641.6 374.4L644.1 372.5L647.2 369.4L651.0 366.2L653.5 365.6L656.6 367.5L659.1 365.6L661.6 361.9L664.8 360.6L666.6 358.1L668.5 359.4L672.2 360.6L676.6 361.2L675.4 363.8L673.5 366.2L672.2 368.8L676.0 371.2L679.1 373.8L681.6 375.0L684.1 373.1L686.0 368.8L687.2 363.8L688.5 359.4L689.8 357.5L691.0 360.6L692.2 365.0L694.8 366.9L695.4 371.9L695.4 376.9L697.9 379.4L699.8 383.1L701.0 386.2L702.9 389.4L704.8 392.5L706.0 395.6L705.4 400.0L704.1 403.8L702.2 407.5L700.4 411.2L697.9 415.0L695.4 418.1L693.8 421.2L688.8 425.0L683.8 428.0L677.5 430.0L673.8 429.5L669.5 428.8L665.0 426.2L664.1 421.9L664.8 415.6L662.2 418.8L660.0 420.6L658.5 417.5L657.2 413.8L653.5 411.9L648.5 411.9L642.2 413.1L637.2 415.0L632.9 417.5L627.9 418.1L622.2 419.4L617.2 420.6Z"/>
<path d="M669.5 436.2L676.2 435.5L675.0 439.5L671.2 442.0L668.0 442.5L668.0 439.5Z"/>
<path d="M743.1 367.5L744.4 367.2L745.0 369.8L745.6 372.2L744.4 372.5L743.5 370.0Z"/>
<path d="M766.0 375.0L768.1 374.0L769.5 375.2L768.1 376.9L766.2 376.5Z"/>
<path d="M770.0 371.9L773.5 370.8L774.0 371.8L770.6 373.2Z"/>
</g>
<g id="legend">
<rect x="215.5" y="537.5" width="48" height="11" fill="url(#h)" stroke="#ccc" stroke-width="1"/>
<line x1="239.5" y1="534" x2="239.5" y2="538" stroke="#999" stroke-width="1"/>
<text class="lg" x="239.5" y="530" text-anchor="middle">No data</text>
<rect x="283" y="537" width="58.5" height="12" fill="#ffffb2"/>
<rect x="341.5" y="537" width="58.5" height="12" fill="#fed976"/>
<rect x="400" y="537" width="58.5" height="12" fill="#feb24c"/>
<rect x="458.5" y="537" width="58.5" height="12" fill="#fd8d3c"/>
<rect x="517" y="537" width="58.5" height="12" fill="#f03b20"/>
<path d="M575.5 537H630L634 543L630 549H575.5Z" fill="#bd0026"/>
<path d="M283 537H630L634 543L630 549H283Z" fill="none" stroke="#a6a6a6" stroke-width="0.6"/>
<g stroke="#8a8a8a" stroke-width="1"><line x1="283.5" y1="534" x2="283.5" y2="549"/><line x1="341.5" y1="534" x2="341.5" y2="549"/><line x1="400" y1="534" x2="400" y2="549"/><line x1="458.5" y1="534" x2="458.5" y2="549"/><line x1="517" y1="534" x2="517" y2="549"/><line x1="575.5" y1="534" x2="575.5" y2="549"/></g>
<text class="lg" x="283.5" y="530" text-anchor="middle">0 t</text>
<text class="lg" x="341.5" y="530" text-anchor="middle">10 t</text>
<text class="lg" x="400" y="530" text-anchor="middle">20 t</text>
<text class="lg" x="458.5" y="530" text-anchor="middle">40 t</text>
<text class="lg" x="517" y="530" text-anchor="middle">60 t</text>
<text class="lg" x="575.5" y="530" text-anchor="middle">80 t</text>
</g>
</svg>
<div id="foot"><b style="letter-spacing:-0.45px">Data source:</b> <span style="letter-spacing:0.12px">Food and Agriculture Organization of the United Nations (2025)</span></div>
<div id="foot2">OurWorldinData.org/biodiversity | CC BY</div>
</body></html>
